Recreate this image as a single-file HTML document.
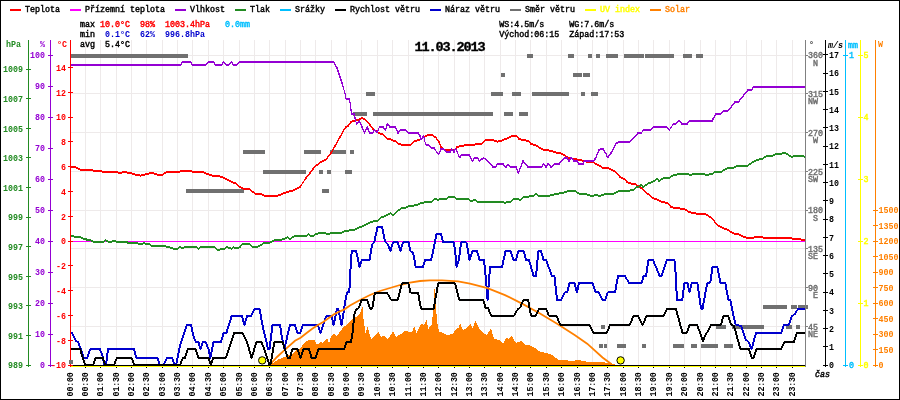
<!DOCTYPE html><html><head><meta charset="utf-8"><title>Meteo 11.03.2013</title>
<style>html,body{margin:0;padding:0;background:#fff}svg{display:block}text{font-family:"Liberation Mono","DejaVu Sans Mono",monospace;font-size:8.33px;white-space:pre;stroke-width:.42px}.b{font-weight:bold}.i{font-style:italic}.ln{fill:none;stroke-width:2;stroke-linejoin:miter}</style></head><body>
<svg width="900" height="400" viewBox="0 0 900 400">
<rect x="0" y="0" width="900" height="400" fill="#fff"/>
<g fill="#eeeaea" shape-rendering="crispEdges"><rect x="85" y="40" width="1" height="325"/><rect x="100" y="40" width="1" height="325"/><rect x="116" y="40" width="1" height="325"/><rect x="131" y="40" width="1" height="325"/><rect x="146" y="40" width="1" height="325"/><rect x="162" y="40" width="1" height="325"/><rect x="177" y="40" width="1" height="325"/><rect x="192" y="40" width="1" height="325"/><rect x="208" y="40" width="1" height="325"/><rect x="223" y="40" width="1" height="325"/><rect x="239" y="40" width="1" height="325"/><rect x="254" y="40" width="1" height="325"/><rect x="269" y="40" width="1" height="325"/><rect x="285" y="40" width="1" height="325"/><rect x="300" y="40" width="1" height="325"/><rect x="315" y="40" width="1" height="325"/><rect x="331" y="40" width="1" height="325"/><rect x="346" y="40" width="1" height="325"/><rect x="361" y="40" width="1" height="325"/><rect x="377" y="40" width="1" height="325"/><rect x="392" y="40" width="1" height="325"/><rect x="408" y="40" width="1" height="325"/><rect x="423" y="40" width="1" height="325"/><rect x="438" y="40" width="1" height="325"/><rect x="454" y="40" width="1" height="325"/><rect x="469" y="40" width="1" height="325"/><rect x="484" y="40" width="1" height="325"/><rect x="500" y="40" width="1" height="325"/><rect x="515" y="40" width="1" height="325"/><rect x="530" y="40" width="1" height="325"/><rect x="546" y="40" width="1" height="325"/><rect x="561" y="40" width="1" height="325"/><rect x="577" y="40" width="1" height="325"/><rect x="592" y="40" width="1" height="325"/><rect x="607" y="40" width="1" height="325"/><rect x="623" y="40" width="1" height="325"/><rect x="638" y="40" width="1" height="325"/><rect x="653" y="40" width="1" height="325"/><rect x="669" y="40" width="1" height="325"/><rect x="684" y="40" width="1" height="325"/><rect x="700" y="40" width="1" height="325"/><rect x="715" y="40" width="1" height="325"/><rect x="730" y="40" width="1" height="325"/><rect x="746" y="40" width="1" height="325"/><rect x="761" y="40" width="1" height="325"/><rect x="776" y="40" width="1" height="325"/><rect x="792" y="40" width="1" height="325"/><rect x="71" y="326" width="734" height="1"/><rect x="71" y="287" width="734" height="1"/><rect x="71" y="248" width="734" height="1"/><rect x="71" y="210" width="734" height="1"/><rect x="71" y="171" width="734" height="1"/><rect x="71" y="132" width="734" height="1"/><rect x="71" y="93" width="734" height="1"/><rect x="71" y="55" width="734" height="1"/></g>
<g fill="#707070" shape-rendering="crispEdges"><rect x="70" y="54" width="118" height="4"/><rect x="527" y="54" width="6" height="4"/><rect x="568" y="54" width="6" height="4"/><rect x="588" y="54" width="4" height="4"/><rect x="596" y="54" width="4" height="4"/><rect x="606" y="54" width="12" height="4"/><rect x="624" y="54" width="20" height="4"/><rect x="645" y="54" width="29" height="4"/><rect x="683" y="54" width="9" height="4"/><rect x="696" y="54" width="7" height="4"/><rect x="501" y="73" width="4" height="4"/><rect x="573" y="73" width="9" height="4"/><rect x="583" y="73" width="7" height="4"/><rect x="366" y="92" width="9" height="4"/><rect x="491" y="92" width="12" height="4"/><rect x="512" y="92" width="9" height="4"/><rect x="532" y="92" width="37" height="4"/><rect x="581" y="92" width="4" height="4"/><rect x="591" y="92" width="7" height="4"/><rect x="353" y="112" width="14" height="4"/><rect x="373" y="112" width="120" height="4"/><rect x="504" y="112" width="9" height="4"/><rect x="519" y="112" width="9" height="4"/><rect x="243" y="150" width="22" height="4"/><rect x="304" y="150" width="17" height="4"/><rect x="330" y="150" width="16" height="4"/><rect x="350" y="150" width="4" height="4"/><rect x="263" y="170" width="43" height="4"/><rect x="319" y="170" width="4" height="4"/><rect x="327" y="170" width="4" height="4"/><rect x="345" y="170" width="7" height="4"/><rect x="186" y="189" width="58" height="4"/><rect x="322" y="189" width="7" height="4"/><rect x="763" y="305" width="24" height="4"/><rect x="791" y="305" width="6" height="4"/><rect x="798" y="305" width="10" height="4"/><rect x="601" y="325" width="4" height="4"/><rect x="716" y="325" width="10" height="4"/><rect x="732" y="325" width="32" height="4"/><rect x="786" y="325" width="6" height="4"/><rect x="796" y="325" width="4" height="4"/><rect x="599" y="344" width="4" height="4"/><rect x="604" y="344" width="3" height="4"/><rect x="617" y="344" width="9" height="4"/><rect x="642" y="344" width="4" height="4"/><rect x="673" y="344" width="11" height="4"/><rect x="691" y="344" width="6" height="4"/><rect x="701" y="344" width="17" height="4"/><rect x="724" y="344" width="9" height="4"/></g>
<polygon shape-rendering="crispEdges" fill="#ff8000" points="270,365 278,359.7 285,356.9 292,354.1 296.2,350.6 300.4,348.5 303.9,342.9 308.8,340.1 314.4,340.1 316.5,343.6 318.6,344.3 320.7,341.5 322.8,342.9 325.6,339.4 327.3,338 329.1,343.6 331.2,335.9 334,333.1 336.8,335.9 340.3,331 343.8,326.8 348,324 351.5,319.8 353.6,318.4 359.2,314.9 362.5,307 363.7,320.5 365.5,332.5 367.75,326.5 368.8,332 371.5,339.25 375.25,335.8 378.25,331.75 381.25,337 384.25,335.5 388,339.25 393.25,331.3 396.25,337 399.25,334.75 402.25,333.25 406,330.25 409,332.5 412,331.75 414.25,326.5 416.5,333.25 421,323.5 424,325 426.5,320.2 428.5,328.75 431.5,325 433.3,310 434.5,289 436,308.5 437.5,323.5 439,331.75 442,332.5 446.5,334.75 452.5,334.3 456.25,328.75 458.5,328 460.3,323.5 463,330.25 466.75,328 470.5,324.25 472.4,328 475.6,321 479,328 484,334 487,335 491,328 494,339 500,340 503,343.6 506,338 509,339 511.6,336 516,343 520,341.6 521.6,341 525,345 529,345 535,348 540,351.6 546,353 552,355 558,359.6 564,360 572,361 578,360 584,361 588,362 600,362 610,363 617,365 617,365 270,365"/>
<path shape-rendering="crispEdges" fill="#ff0000" d="M70,166L75,166L75,168L70,168ZM75,166L80,168.4L80,170.4L75,168ZM80,168.4L85,169.6L85,171.6L80,170.4ZM85,169.6L90,168.6L90,170.6L85,171.6ZM90,168.6L95,170L95,172L90,170.6ZM95,170L98,170.5L98,172.5L95,172ZM98,170.5L100,170L100,172L98,172.5ZM100,170L103,171L103,173L100,172ZM103,171L116,171L116,173L103,173ZM116,171L119,172L119,174L116,173ZM119,172L124,171L124,173L119,174ZM124,171L130,172L130,174L124,173ZM130,172L135,173.6L135,175.6L130,174ZM135,173.6L141,174.6L141,176.6L135,175.6ZM141,174.6L148,172.6L148,174.6L141,176.6ZM148,172.6L153,172L153,174L148,174.6ZM153,172L158,173.8L158,175.8L153,174ZM158,173.8L162,173.8L162,175.8L158,175.8ZM162,173.8L167,171L167,173L162,175.8ZM167,171L178,171L178,173L167,173ZM178,171L181,170L181,172L178,173ZM181,170L190,170L190,172L181,172ZM190,170L193,171L193,173L190,172ZM193,171L203,171L203,173L193,173ZM203,171L209,173.6L209,175.6L203,173ZM209,173.6L214,175L214,177L209,175.6ZM214,175L220,175.4L220,177.4L214,177ZM220,175.4L226,178L226,180L220,177.4ZM226,178L230,180L230,182L226,180ZM230,180L236,182.6L236,184.6L230,182ZM236,182.6L240,186L240,188L236,184.6ZM240,186L244,188L244,190L240,188ZM244,188L249,188L249,190L244,190ZM249,188L255,192.6L255,194.6L249,190ZM255,192.6L261,193L261,195L255,194.6ZM261,193L265,195L265,197L261,195ZM265,195L277,195L277,197L265,197ZM277,195L281,193.4L281,195.4L277,197ZM281,193.4L287,191L287,193L281,195.4ZM287,191L293,189.4L293,191.4L287,193ZM293,189.4L300,186L300,188L293,191.4ZM299.2,187L305.2,178L306.8,178L300.8,187ZM305.1,178L309.1,173L310.9,173L306.9,178ZM309.1,173L314.1,166.4L315.9,166.4L310.9,173ZM315,165.4L321,161L321,163L315,167.4ZM321,161L326,158.6L326,160.6L321,163ZM325.1,159.6L330.1,153L331.9,153L326.9,159.6ZM330.2,153L334.2,146L335.8,146L331.8,153ZM334.2,146L339.2,137L340.8,137L335.8,146ZM339.2,137L343.2,129.5L344.8,129.5L340.8,137ZM343.1,129.5L345.1,127L346.9,127L344.9,129.5ZM346,126L348.5,124.5L348.5,126.5L346,128ZM347.6,125.5L350.1,122L351.9,122L349.4,125.5ZM351,121L354,119.8L354,121.8L351,123ZM354,119.8L359,118.8L359,120.8L354,121.8ZM359,118.8L362,116.8L362,118.8L359,120.8ZM362,116.8L364.5,118L364.5,120L362,118.8ZM364.5,118L367.5,121L367.5,123L364.5,120ZM368.4,122L370.9,125L369.1,125L366.6,122ZM370.9,125L373.9,129L372.1,129L369.1,125ZM373,128L376,130.2L376,132.2L373,130ZM376,130.2L379,132L379,134L376,132.2ZM379,132L383,133.5L383,135.5L379,134ZM383,133.5L388,138L388,140L383,135.5ZM388,138L392,138.6L392,140.6L388,140ZM392,138.6L394,140.6L394,142.6L392,140.6ZM393.1,141.6L394.1,140.4L395.9,140.4L394.9,141.6ZM395,139.4L399,143.4L399,145.4L395,141.4ZM399,143.4L410,144L410,146L399,145.4ZM410,144L415,140L415,142L410,146ZM415,140L420,138.6L420,140.6L415,142ZM420,138.6L424,136L424,138L420,140.6ZM424,136L428,134L428,136L424,138ZM428,134L432,134L432,136L428,136ZM432,134L436,136.6L436,138.6L432,136ZM436.8,137.6L439.8,142L438.2,142L435.2,137.6ZM439.7,142L441.7,147L440.3,147L438.3,142ZM441,146L445,149L445,151L441,148ZM445,149L454,149L454,151L445,151ZM454,149L457,146L457,148L454,151ZM457,146L460,145L460,147L457,148ZM460,145L468,144L468,146L460,147ZM468,144L476,143.4L476,145.4L468,146ZM476,143.4L481,143.4L481,145.4L476,145.4ZM481,143.4L486,139L486,141L481,145.4ZM486,139L492,138.6L492,140.6L486,141ZM492,138.6L497,140.6L497,142.6L492,140.6ZM497,140.6L501,140L501,142L497,142.6ZM501,140L508,137L508,139L501,142ZM508,137L513,134.6L513,136.6L508,139ZM513,134.6L516,135L516,137L513,136.6ZM516,135L519,138L519,140L516,137ZM519,138L523,139L523,141L519,140ZM523,139L528,140L528,142L523,141ZM528,140L531,143L531,145L528,142ZM531,143L537,145L537,147L531,145ZM537,145L543,148.6L543,150.6L537,147ZM543,148.6L552,150L552,152L543,150.6ZM552,150L556,151.6L556,153.6L552,152ZM556,151.6L562,152.6L562,154.6L556,153.6ZM562,152.6L568,156.6L568,158.6L562,154.6ZM568,156.6L574,158L574,160L568,158.6ZM574,158L580,159L580,161L574,160ZM580,159L586,160.6L586,162.6L580,161ZM586,160.6L593,161L593,163L586,162.6ZM593,161L597,163.6L597,165.6L593,163ZM597,163.6L600,165L600,167L597,165.6ZM600,165L602,166.6L602,168.6L600,167ZM602,166.6L608,167L608,169L602,168.6ZM608,167L614,170L614,172L608,169ZM614,170L620,176L620,178L614,172ZM620,176L624,178L624,180L620,178ZM624,178L627,181L627,183L624,180ZM627,181L631,182.6L631,184.6L627,183ZM631,182.6L636,183.6L636,185.6L631,184.6ZM636,183.6L642,187.6L642,189.6L636,185.6ZM642,187.6L648,193L648,195L642,189.6ZM648,193L653,197L653,199L648,195ZM653,197L658,199L658,201L653,199ZM658,199L662,201L662,203L658,201ZM662,201L667,202L667,204L662,203ZM667,202L671,206L671,208L667,204ZM671,206L675,207L675,209L671,208ZM675,207L684,208L684,210L675,209ZM684,208L690,211.4L690,213.4L684,210ZM690,211.4L696,212.6L696,214.6L690,213.4ZM696,212.6L707,213.6L707,215.6L696,214.6ZM707,213.6L712,217.6L712,219.6L707,215.6ZM712.9,218.6L718.9,225.6L717.1,225.6L711.1,218.6ZM718,224.6L723,227L723,229L718,226.6ZM723,227L728,229L728,231L723,229ZM728,229L734,232.6L734,234.6L728,231ZM734,232.6L739,233.6L739,235.6L734,234.6ZM739,233.6L746,236.6L746,238.6L739,235.6ZM746,236.6L754,236.6L754,238.6L746,238.6ZM754,236.6L757,236L757,238L754,238.6ZM757,236L762,236L762,238L757,238ZM762,236L764,236.8L764,238.8L762,238ZM764,236.8L790,236.8L790,238.8L764,238.8ZM790,236.8L792,237.6L792,239.6L790,238.8ZM792,237.6L800,238L800,240L792,239.6ZM800,238L802,239L802,241L800,240ZM802,239L806,239L806,241L802,241ZM74.4,166.4L75.6,166.4L75.6,167.6L74.4,167.6ZM79.4,168.8L80.6,168.8L80.6,170L79.4,170ZM84.4,170L85.6,170L85.6,171.2L84.4,171.2ZM89.4,169L90.6,169L90.6,170.2L89.4,170.2ZM94.4,170.4L95.6,170.4L95.6,171.6L94.4,171.6ZM97.4,170.9L98.6,170.9L98.6,172.1L97.4,172.1ZM99.4,170.4L100.6,170.4L100.6,171.6L99.4,171.6ZM102.4,171.4L103.6,171.4L103.6,172.6L102.4,172.6ZM115.4,171.4L116.6,171.4L116.6,172.6L115.4,172.6ZM118.4,172.4L119.6,172.4L119.6,173.6L118.4,173.6ZM123.4,171.4L124.6,171.4L124.6,172.6L123.4,172.6ZM129.4,172.4L130.6,172.4L130.6,173.6L129.4,173.6ZM134.4,174L135.6,174L135.6,175.2L134.4,175.2ZM140.4,175L141.6,175L141.6,176.2L140.4,176.2ZM147.4,173L148.6,173L148.6,174.2L147.4,174.2ZM152.4,172.4L153.6,172.4L153.6,173.6L152.4,173.6ZM157.4,174.2L158.6,174.2L158.6,175.4L157.4,175.4ZM161.4,174.2L162.6,174.2L162.6,175.4L161.4,175.4ZM166.4,171.4L167.6,171.4L167.6,172.6L166.4,172.6ZM177.4,171.4L178.6,171.4L178.6,172.6L177.4,172.6ZM180.4,170.4L181.6,170.4L181.6,171.6L180.4,171.6ZM189.4,170.4L190.6,170.4L190.6,171.6L189.4,171.6ZM192.4,171.4L193.6,171.4L193.6,172.6L192.4,172.6ZM202.4,171.4L203.6,171.4L203.6,172.6L202.4,172.6ZM208.4,174L209.6,174L209.6,175.2L208.4,175.2ZM213.4,175.4L214.6,175.4L214.6,176.6L213.4,176.6ZM219.4,175.8L220.6,175.8L220.6,177L219.4,177ZM225.4,178.4L226.6,178.4L226.6,179.6L225.4,179.6ZM229.4,180.4L230.6,180.4L230.6,181.6L229.4,181.6ZM235.4,183L236.6,183L236.6,184.2L235.4,184.2ZM239.4,186.4L240.6,186.4L240.6,187.6L239.4,187.6ZM243.4,188.4L244.6,188.4L244.6,189.6L243.4,189.6ZM248.4,188.4L249.6,188.4L249.6,189.6L248.4,189.6ZM254.4,193L255.6,193L255.6,194.2L254.4,194.2ZM260.4,193.4L261.6,193.4L261.6,194.6L260.4,194.6ZM264.4,195.4L265.6,195.4L265.6,196.6L264.4,196.6ZM276.4,195.4L277.6,195.4L277.6,196.6L276.4,196.6ZM280.4,193.8L281.6,193.8L281.6,195L280.4,195ZM286.4,191.4L287.6,191.4L287.6,192.6L286.4,192.6ZM292.4,189.8L293.6,189.8L293.6,191L292.4,191ZM299.4,186.4L300.6,186.4L300.6,187.6L299.4,187.6ZM305.4,177.4L306.6,177.4L306.6,178.6L305.4,178.6ZM309.4,172.4L310.6,172.4L310.6,173.6L309.4,173.6ZM314.4,165.8L315.6,165.8L315.6,167L314.4,167ZM320.4,161.4L321.6,161.4L321.6,162.6L320.4,162.6ZM325.4,159L326.6,159L326.6,160.2L325.4,160.2ZM330.4,152.4L331.6,152.4L331.6,153.6L330.4,153.6ZM334.4,145.4L335.6,145.4L335.6,146.6L334.4,146.6ZM339.4,136.4L340.6,136.4L340.6,137.6L339.4,137.6ZM343.4,128.9L344.6,128.9L344.6,130.1L343.4,130.1ZM345.4,126.4L346.6,126.4L346.6,127.6L345.4,127.6ZM347.9,124.9L349.1,124.9L349.1,126.1L347.9,126.1ZM350.4,121.4L351.6,121.4L351.6,122.6L350.4,122.6ZM353.4,120.2L354.6,120.2L354.6,121.4L353.4,121.4ZM358.4,119.2L359.6,119.2L359.6,120.4L358.4,120.4ZM361.4,117.2L362.6,117.2L362.6,118.4L361.4,118.4ZM363.9,118.4L365.1,118.4L365.1,119.6L363.9,119.6ZM366.9,121.4L368.1,121.4L368.1,122.6L366.9,122.6ZM369.4,124.4L370.6,124.4L370.6,125.6L369.4,125.6ZM372.4,128.4L373.6,128.4L373.6,129.6L372.4,129.6ZM375.4,130.6L376.6,130.6L376.6,131.8L375.4,131.8ZM378.4,132.4L379.6,132.4L379.6,133.6L378.4,133.6ZM382.4,133.9L383.6,133.9L383.6,135.1L382.4,135.1ZM387.4,138.4L388.6,138.4L388.6,139.6L387.4,139.6ZM391.4,139L392.6,139L392.6,140.2L391.4,140.2ZM393.4,141L394.6,141L394.6,142.2L393.4,142.2ZM394.4,139.8L395.6,139.8L395.6,141L394.4,141ZM398.4,143.8L399.6,143.8L399.6,145L398.4,145ZM409.4,144.4L410.6,144.4L410.6,145.6L409.4,145.6ZM414.4,140.4L415.6,140.4L415.6,141.6L414.4,141.6ZM419.4,139L420.6,139L420.6,140.2L419.4,140.2ZM423.4,136.4L424.6,136.4L424.6,137.6L423.4,137.6ZM427.4,134.4L428.6,134.4L428.6,135.6L427.4,135.6ZM431.4,134.4L432.6,134.4L432.6,135.6L431.4,135.6ZM435.4,137L436.6,137L436.6,138.2L435.4,138.2ZM438.4,141.4L439.6,141.4L439.6,142.6L438.4,142.6ZM440.4,146.4L441.6,146.4L441.6,147.6L440.4,147.6ZM444.4,149.4L445.6,149.4L445.6,150.6L444.4,150.6ZM453.4,149.4L454.6,149.4L454.6,150.6L453.4,150.6ZM456.4,146.4L457.6,146.4L457.6,147.6L456.4,147.6ZM459.4,145.4L460.6,145.4L460.6,146.6L459.4,146.6ZM467.4,144.4L468.6,144.4L468.6,145.6L467.4,145.6ZM475.4,143.8L476.6,143.8L476.6,145L475.4,145ZM480.4,143.8L481.6,143.8L481.6,145L480.4,145ZM485.4,139.4L486.6,139.4L486.6,140.6L485.4,140.6ZM491.4,139L492.6,139L492.6,140.2L491.4,140.2ZM496.4,141L497.6,141L497.6,142.2L496.4,142.2ZM500.4,140.4L501.6,140.4L501.6,141.6L500.4,141.6ZM507.4,137.4L508.6,137.4L508.6,138.6L507.4,138.6ZM512.4,135L513.6,135L513.6,136.2L512.4,136.2ZM515.4,135.4L516.6,135.4L516.6,136.6L515.4,136.6ZM518.4,138.4L519.6,138.4L519.6,139.6L518.4,139.6ZM522.4,139.4L523.6,139.4L523.6,140.6L522.4,140.6ZM527.4,140.4L528.6,140.4L528.6,141.6L527.4,141.6ZM530.4,143.4L531.6,143.4L531.6,144.6L530.4,144.6ZM536.4,145.4L537.6,145.4L537.6,146.6L536.4,146.6ZM542.4,149L543.6,149L543.6,150.2L542.4,150.2ZM551.4,150.4L552.6,150.4L552.6,151.6L551.4,151.6ZM555.4,152L556.6,152L556.6,153.2L555.4,153.2ZM561.4,153L562.6,153L562.6,154.2L561.4,154.2ZM567.4,157L568.6,157L568.6,158.2L567.4,158.2ZM573.4,158.4L574.6,158.4L574.6,159.6L573.4,159.6ZM579.4,159.4L580.6,159.4L580.6,160.6L579.4,160.6ZM585.4,161L586.6,161L586.6,162.2L585.4,162.2ZM592.4,161.4L593.6,161.4L593.6,162.6L592.4,162.6ZM596.4,164L597.6,164L597.6,165.2L596.4,165.2ZM599.4,165.4L600.6,165.4L600.6,166.6L599.4,166.6ZM601.4,167L602.6,167L602.6,168.2L601.4,168.2ZM607.4,167.4L608.6,167.4L608.6,168.6L607.4,168.6ZM613.4,170.4L614.6,170.4L614.6,171.6L613.4,171.6ZM619.4,176.4L620.6,176.4L620.6,177.6L619.4,177.6ZM623.4,178.4L624.6,178.4L624.6,179.6L623.4,179.6ZM626.4,181.4L627.6,181.4L627.6,182.6L626.4,182.6ZM630.4,183L631.6,183L631.6,184.2L630.4,184.2ZM635.4,184L636.6,184L636.6,185.2L635.4,185.2ZM641.4,188L642.6,188L642.6,189.2L641.4,189.2ZM647.4,193.4L648.6,193.4L648.6,194.6L647.4,194.6ZM652.4,197.4L653.6,197.4L653.6,198.6L652.4,198.6ZM657.4,199.4L658.6,199.4L658.6,200.6L657.4,200.6ZM661.4,201.4L662.6,201.4L662.6,202.6L661.4,202.6ZM666.4,202.4L667.6,202.4L667.6,203.6L666.4,203.6ZM670.4,206.4L671.6,206.4L671.6,207.6L670.4,207.6ZM674.4,207.4L675.6,207.4L675.6,208.6L674.4,208.6ZM683.4,208.4L684.6,208.4L684.6,209.6L683.4,209.6ZM689.4,211.8L690.6,211.8L690.6,213L689.4,213ZM695.4,213L696.6,213L696.6,214.2L695.4,214.2ZM706.4,214L707.6,214L707.6,215.2L706.4,215.2ZM711.4,218L712.6,218L712.6,219.2L711.4,219.2ZM717.4,225L718.6,225L718.6,226.2L717.4,226.2ZM722.4,227.4L723.6,227.4L723.6,228.6L722.4,228.6ZM727.4,229.4L728.6,229.4L728.6,230.6L727.4,230.6ZM733.4,233L734.6,233L734.6,234.2L733.4,234.2ZM738.4,234L739.6,234L739.6,235.2L738.4,235.2ZM745.4,237L746.6,237L746.6,238.2L745.4,238.2ZM753.4,237L754.6,237L754.6,238.2L753.4,238.2ZM756.4,236.4L757.6,236.4L757.6,237.6L756.4,237.6ZM761.4,236.4L762.6,236.4L762.6,237.6L761.4,237.6ZM763.4,237.2L764.6,237.2L764.6,238.4L763.4,238.4ZM789.4,237.2L790.6,237.2L790.6,238.4L789.4,238.4ZM791.4,238L792.6,238L792.6,239.2L791.4,239.2ZM799.4,238.4L800.6,238.4L800.6,239.6L799.4,239.6ZM801.4,239.4L802.6,239.4L802.6,240.6L801.4,240.6Z"/>
<rect x="71" y="241" width="735" height="1" fill="#ff00ff" shape-rendering="crispEdges"/>
<path shape-rendering="crispEdges" fill="#9400d3" d="M70,64L180.5,64L180.5,66L70,66ZM179.7,65L181.7,62L183.3,62L181.3,65ZM182.5,61L190.5,61L190.5,63L182.5,63ZM191.3,62L193.3,65L191.7,65L189.7,62ZM192.5,64L205.5,64L205.5,66L192.5,66ZM205.5,64L208.5,61L208.5,63L205.5,66ZM208.5,61L213.5,61L213.5,63L208.5,63ZM214.3,62L216.3,65L214.7,65L212.7,62ZM215.5,64L221.5,64L221.5,66L215.5,66ZM220.7,65L222.7,62L224.3,62L222.3,65ZM223.5,61L226.5,64L226.5,66L223.5,63ZM226.5,64L228.5,64L228.5,66L226.5,66ZM228.5,64L231.5,61L231.5,63L228.5,66ZM232.3,62L234.3,65L232.7,65L230.7,62ZM233.5,64L236.5,64L236.5,66L233.5,66ZM236.5,64L239.5,61L239.5,63L236.5,66ZM239.5,61L333.6,61L333.6,63L239.5,63ZM334.4,62L337.8,68L336.2,68L332.8,62ZM337.7,68L342.7,83L341.3,83L336.3,68ZM342.6,83L346.1,95L344.9,95L341.4,83ZM346.1,95L346.6,98.5L345.4,98.5L344.9,95ZM346,97.5L349,97.5L349,99.5L346,99.5ZM349.6,98.5L351.1,105L349.9,105L348.4,98.5ZM351.1,105L351.6,110L350.4,110L349.9,105ZM351.6,110L352.6,114L351.4,114L350.4,110ZM352,113L354,113L354,115L352,115ZM354.6,114L355.6,118L354.4,118L353.4,114ZM355.6,118L357.1,124L355.9,124L354.4,118ZM356.5,123L359.5,120L359.5,122L356.5,125ZM360.2,121L362.7,127L361.3,127L358.8,121ZM362.7,127L365.2,133L363.8,133L361.3,127ZM363.8,133L366.5,126.8L367.9,126.8L365.2,133ZM367.9,126.8L370.2,133L368.8,133L366.5,126.8ZM369.5,132L372.5,132L372.5,134L369.5,134ZM371.7,133L373.7,130L375.3,130L373.3,133ZM374.5,129L377,131.5L377,133.5L374.5,131ZM376.3,132.5L378.8,127L380.2,127L377.7,132.5ZM379.5,126L383,126L383,128L379.5,128ZM383.9,127L386.4,130L384.6,130L382.1,127ZM384.8,130L386.8,123.5L388.2,123.5L386.2,130ZM388.4,123.5L390.9,127L389.1,127L386.6,123.5ZM390,126L395.5,126L395.5,128L390,128ZM396.2,127L398.7,133L397.3,133L394.8,127ZM397.1,133L399.6,129.8L401.4,129.8L398.9,133ZM400.5,128.8L405,128.8L405,130.8L400.5,130.8ZM405,128.8L408.5,132L408.5,134L405,130.8ZM408.5,132L418.5,132L418.5,134L408.5,134ZM419.2,133L420.8,136L419.2,136L417.8,133ZM420.6,136L421.6,139.6L420.4,139.6L419.4,136ZM420.1,139.6L422.7,136L424.5,136L421.9,139.6ZM424.2,136L426.2,144.6L425,144.6L423,136ZM425.6,143.6L428,144L428,146L425.6,145.6ZM428,144L432,147L432,149L428,146ZM432,147L434,147L434,149L432,149ZM434.8,148L439.2,154.6L437.6,154.6L433.2,148ZM437.7,154.6L440.3,149L441.7,149L439.1,154.6ZM441,148L443,148L443,150L441,150ZM443,148L447,151L447,153L443,150ZM447,151L450,151L450,153L447,153ZM449.2,152L450.8,149L452.4,149L450.8,152ZM452.5,149L454.9,152L453.1,152L450.7,149ZM453.3,152L454.9,148.6L456.3,148.6L454.7,152ZM456.3,148.6L460.3,157.6L458.9,157.6L454.9,148.6ZM458.7,157.6L460.7,155L462.5,155L460.5,157.6ZM461.6,154L469,154L469,156L461.6,156ZM469.8,155L473.2,161L471.6,161L468.2,155ZM471.6,161L473.6,158L475.2,158L473.2,161ZM474.4,157L477.6,157L477.6,159L474.4,159ZM478.4,158L480.4,161L478.8,161L476.8,158ZM479.6,160L483.6,156.6L483.6,158.6L479.6,162ZM484.6,157.6L494,167L492,167L482.6,157.6ZM493,166L495.6,166L495.6,168L493,168ZM494.8,167L496.8,164L498.4,164L496.4,167ZM497.6,163L503,163L503,165L497.6,165ZM503.9,164L506.9,167.6L505.1,167.6L502.1,164ZM505.2,167.6L506.9,164.4L508.4,164.4L506.8,167.6ZM507.6,163.4L511,166L511,168L507.6,165.4ZM511,166L516,166L516,168L511,168ZM516.7,167L519.1,173L517.7,173L515.3,167ZM517.7,173L522.3,161L523.7,161L519.1,173ZM523.9,161L528.9,167L527.1,167L522.1,161ZM528,166L541.6,166L541.6,168L528,168ZM540.8,167L542.8,164L544.4,164L542.4,167ZM544.5,164L546.9,167L545.1,167L542.7,164ZM545.2,167L547.2,164L548.8,164L546.8,167ZM548,163L551,166L551,168L548,165ZM551,166L554.4,163L554.4,165L551,168ZM554.4,163L559,163L559,165L554.4,165ZM558,164L564,157.6L566,157.6L560,164ZM565,156.6L567,157L567,159L565,158.6ZM567.8,158L569.8,161L568.2,161L566.2,158ZM568.2,161L570.2,157.6L571.8,157.6L569.8,161ZM571.9,157.6L574.9,161L573.1,161L570.1,157.6ZM574,160L577,160L577,162L574,162ZM577.8,161L579.8,164L578.2,164L576.2,161ZM579,163L583,163L583,165L579,165ZM582.3,164L583.7,161L585.1,161L583.7,164ZM584.4,160L593.6,160L593.6,162L584.4,162ZM592.7,161L595.1,157.6L596.9,157.6L594.5,161ZM595.3,157.6L598.3,149.6L599.7,149.6L596.7,157.6ZM599,148.6L603,148L603,150L599,150.6ZM603.8,149L606.4,153L604.8,153L602.2,149ZM606.3,153L608.3,157.6L606.9,157.6L604.9,153ZM606.7,157.6L610.1,153L611.9,153L608.5,157.6ZM610.2,153L615.2,143.6L616.8,143.6L611.8,153ZM616,142.6L619,140.6L619,142.6L616,144.6ZM619,140.6L630,140.6L630,142.6L619,142.6ZM629,141.6L637,133L639,133L631,141.6ZM638,132L641.6,131.6L641.6,133.6L638,134ZM640.8,132.6L642.8,129.6L644.4,129.6L642.4,132.6ZM643.6,128.6L651,128.6L651,130.6L643.6,130.6ZM651,128.6L653.6,126L653.6,128L651,130.6ZM653.6,126L666,126L666,128L653.6,128ZM666,126L669.6,128.6L669.6,130.6L666,128ZM668.8,129.6L672.2,124.6L673.8,124.6L670.4,129.6ZM673,123.6L676,122.6L676,124.6L673,125.6ZM676,122.6L679,120L679,122L676,124.6ZM679,120L682,123L682,125L679,122ZM682,123L687,123L687,125L682,125ZM686.1,124L688.7,121L690.5,121L687.9,124ZM689.6,120L712,120L712,122L689.6,122ZM711.2,121L714.8,114L716.4,114L712.8,121ZM715.6,113L720,113L720,115L715.6,115ZM720,113L723.6,109.6L723.6,111.6L720,115ZM723.6,109.6L728.4,109.6L728.4,111.6L723.6,111.6ZM727.5,110.6L734.1,102L735.9,102L729.3,110.6ZM735,101L738.4,101L738.4,103L735,103ZM737.5,102L747.1,90L748.9,90L739.3,102ZM748,89L751.6,89L751.6,91L748,91ZM750.8,90L752.8,87L754.4,87L752.4,90ZM753.6,86L806,86L806,88L753.6,88ZM179.9,64.4L181.1,64.4L181.1,65.6L179.9,65.6ZM181.9,61.4L183.1,61.4L183.1,62.6L181.9,62.6ZM189.9,61.4L191.1,61.4L191.1,62.6L189.9,62.6ZM191.9,64.4L193.1,64.4L193.1,65.6L191.9,65.6ZM204.9,64.4L206.1,64.4L206.1,65.6L204.9,65.6ZM207.9,61.4L209.1,61.4L209.1,62.6L207.9,62.6ZM212.9,61.4L214.1,61.4L214.1,62.6L212.9,62.6ZM214.9,64.4L216.1,64.4L216.1,65.6L214.9,65.6ZM220.9,64.4L222.1,64.4L222.1,65.6L220.9,65.6ZM222.9,61.4L224.1,61.4L224.1,62.6L222.9,62.6ZM225.9,64.4L227.1,64.4L227.1,65.6L225.9,65.6ZM227.9,64.4L229.1,64.4L229.1,65.6L227.9,65.6ZM230.9,61.4L232.1,61.4L232.1,62.6L230.9,62.6ZM232.9,64.4L234.1,64.4L234.1,65.6L232.9,65.6ZM235.9,64.4L237.1,64.4L237.1,65.6L235.9,65.6ZM238.9,61.4L240.1,61.4L240.1,62.6L238.9,62.6ZM333,61.4L334.2,61.4L334.2,62.6L333,62.6ZM336.4,67.4L337.6,67.4L337.6,68.6L336.4,68.6ZM341.4,82.4L342.6,82.4L342.6,83.6L341.4,83.6ZM344.9,94.4L346.1,94.4L346.1,95.6L344.9,95.6ZM345.4,97.9L346.6,97.9L346.6,99.1L345.4,99.1ZM348.4,97.9L349.6,97.9L349.6,99.1L348.4,99.1ZM349.9,104.4L351.1,104.4L351.1,105.6L349.9,105.6ZM350.4,109.4L351.6,109.4L351.6,110.6L350.4,110.6ZM351.4,113.4L352.6,113.4L352.6,114.6L351.4,114.6ZM353.4,113.4L354.6,113.4L354.6,114.6L353.4,114.6ZM354.4,117.4L355.6,117.4L355.6,118.6L354.4,118.6ZM355.9,123.4L357.1,123.4L357.1,124.6L355.9,124.6ZM358.9,120.4L360.1,120.4L360.1,121.6L358.9,121.6ZM361.4,126.4L362.6,126.4L362.6,127.6L361.4,127.6ZM363.9,132.4L365.1,132.4L365.1,133.6L363.9,133.6ZM366.6,126.2L367.8,126.2L367.8,127.4L366.6,127.4ZM368.9,132.4L370.1,132.4L370.1,133.6L368.9,133.6ZM371.9,132.4L373.1,132.4L373.1,133.6L371.9,133.6ZM373.9,129.4L375.1,129.4L375.1,130.6L373.9,130.6ZM376.4,131.9L377.6,131.9L377.6,133.1L376.4,133.1ZM378.9,126.4L380.1,126.4L380.1,127.6L378.9,127.6ZM382.4,126.4L383.6,126.4L383.6,127.6L382.4,127.6ZM384.9,129.4L386.1,129.4L386.1,130.6L384.9,130.6ZM386.9,122.9L388.1,122.9L388.1,124.1L386.9,124.1ZM389.4,126.4L390.6,126.4L390.6,127.6L389.4,127.6ZM394.9,126.4L396.1,126.4L396.1,127.6L394.9,127.6ZM397.4,132.4L398.6,132.4L398.6,133.6L397.4,133.6ZM399.9,129.2L401.1,129.2L401.1,130.4L399.9,130.4ZM404.4,129.2L405.6,129.2L405.6,130.4L404.4,130.4ZM407.9,132.4L409.1,132.4L409.1,133.6L407.9,133.6ZM417.9,132.4L419.1,132.4L419.1,133.6L417.9,133.6ZM419.4,135.4L420.6,135.4L420.6,136.6L419.4,136.6ZM420.4,139L421.6,139L421.6,140.2L420.4,140.2ZM423,135.4L424.2,135.4L424.2,136.6L423,136.6ZM425,144L426.2,144L426.2,145.2L425,145.2ZM427.4,144.4L428.6,144.4L428.6,145.6L427.4,145.6ZM431.4,147.4L432.6,147.4L432.6,148.6L431.4,148.6ZM433.4,147.4L434.6,147.4L434.6,148.6L433.4,148.6ZM437.8,154L439,154L439,155.2L437.8,155.2ZM440.4,148.4L441.6,148.4L441.6,149.6L440.4,149.6ZM442.4,148.4L443.6,148.4L443.6,149.6L442.4,149.6ZM446.4,151.4L447.6,151.4L447.6,152.6L446.4,152.6ZM449.4,151.4L450.6,151.4L450.6,152.6L449.4,152.6ZM451,148.4L452.2,148.4L452.2,149.6L451,149.6ZM453.4,151.4L454.6,151.4L454.6,152.6L453.4,152.6ZM455,148L456.2,148L456.2,149.2L455,149.2ZM459,157L460.2,157L460.2,158.2L459,158.2ZM461,154.4L462.2,154.4L462.2,155.6L461,155.6ZM468.4,154.4L469.6,154.4L469.6,155.6L468.4,155.6ZM471.8,160.4L473,160.4L473,161.6L471.8,161.6ZM473.8,157.4L475,157.4L475,158.6L473.8,158.6ZM477,157.4L478.2,157.4L478.2,158.6L477,158.6ZM479,160.4L480.2,160.4L480.2,161.6L479,161.6ZM483,157L484.2,157L484.2,158.2L483,158.2ZM492.4,166.4L493.6,166.4L493.6,167.6L492.4,167.6ZM495,166.4L496.2,166.4L496.2,167.6L495,167.6ZM497,163.4L498.2,163.4L498.2,164.6L497,164.6ZM502.4,163.4L503.6,163.4L503.6,164.6L502.4,164.6ZM505.4,167L506.6,167L506.6,168.2L505.4,168.2ZM507,163.8L508.2,163.8L508.2,165L507,165ZM510.4,166.4L511.6,166.4L511.6,167.6L510.4,167.6ZM515.4,166.4L516.6,166.4L516.6,167.6L515.4,167.6ZM517.8,172.4L519,172.4L519,173.6L517.8,173.6ZM522.4,160.4L523.6,160.4L523.6,161.6L522.4,161.6ZM527.4,166.4L528.6,166.4L528.6,167.6L527.4,167.6ZM541,166.4L542.2,166.4L542.2,167.6L541,167.6ZM543,163.4L544.2,163.4L544.2,164.6L543,164.6ZM545.4,166.4L546.6,166.4L546.6,167.6L545.4,167.6ZM547.4,163.4L548.6,163.4L548.6,164.6L547.4,164.6ZM550.4,166.4L551.6,166.4L551.6,167.6L550.4,167.6ZM553.8,163.4L555,163.4L555,164.6L553.8,164.6ZM558.4,163.4L559.6,163.4L559.6,164.6L558.4,164.6ZM564.4,157L565.6,157L565.6,158.2L564.4,158.2ZM566.4,157.4L567.6,157.4L567.6,158.6L566.4,158.6ZM568.4,160.4L569.6,160.4L569.6,161.6L568.4,161.6ZM570.4,157L571.6,157L571.6,158.2L570.4,158.2ZM573.4,160.4L574.6,160.4L574.6,161.6L573.4,161.6ZM576.4,160.4L577.6,160.4L577.6,161.6L576.4,161.6ZM578.4,163.4L579.6,163.4L579.6,164.6L578.4,164.6ZM582.4,163.4L583.6,163.4L583.6,164.6L582.4,164.6ZM583.8,160.4L585,160.4L585,161.6L583.8,161.6ZM593,160.4L594.2,160.4L594.2,161.6L593,161.6ZM595.4,157L596.6,157L596.6,158.2L595.4,158.2ZM598.4,149L599.6,149L599.6,150.2L598.4,150.2ZM602.4,148.4L603.6,148.4L603.6,149.6L602.4,149.6ZM605,152.4L606.2,152.4L606.2,153.6L605,153.6ZM607,157L608.2,157L608.2,158.2L607,158.2ZM610.4,152.4L611.6,152.4L611.6,153.6L610.4,153.6ZM615.4,143L616.6,143L616.6,144.2L615.4,144.2ZM618.4,141L619.6,141L619.6,142.2L618.4,142.2ZM629.4,141L630.6,141L630.6,142.2L629.4,142.2ZM637.4,132.4L638.6,132.4L638.6,133.6L637.4,133.6ZM641,132L642.2,132L642.2,133.2L641,133.2ZM643,129L644.2,129L644.2,130.2L643,130.2ZM650.4,129L651.6,129L651.6,130.2L650.4,130.2ZM653,126.4L654.2,126.4L654.2,127.6L653,127.6ZM665.4,126.4L666.6,126.4L666.6,127.6L665.4,127.6ZM669,129L670.2,129L670.2,130.2L669,130.2ZM672.4,124L673.6,124L673.6,125.2L672.4,125.2ZM675.4,123L676.6,123L676.6,124.2L675.4,124.2ZM678.4,120.4L679.6,120.4L679.6,121.6L678.4,121.6ZM681.4,123.4L682.6,123.4L682.6,124.6L681.4,124.6ZM686.4,123.4L687.6,123.4L687.6,124.6L686.4,124.6ZM689,120.4L690.2,120.4L690.2,121.6L689,121.6ZM711.4,120.4L712.6,120.4L712.6,121.6L711.4,121.6ZM715,113.4L716.2,113.4L716.2,114.6L715,114.6ZM719.4,113.4L720.6,113.4L720.6,114.6L719.4,114.6ZM723,110L724.2,110L724.2,111.2L723,111.2ZM727.8,110L729,110L729,111.2L727.8,111.2ZM734.4,101.4L735.6,101.4L735.6,102.6L734.4,102.6ZM737.8,101.4L739,101.4L739,102.6L737.8,102.6ZM747.4,89.4L748.6,89.4L748.6,90.6L747.4,90.6ZM751,89.4L752.2,89.4L752.2,90.6L751,90.6ZM753,86.4L754.2,86.4L754.2,87.6L753,87.6Z"/>
<path shape-rendering="crispEdges" fill="#228b22" d="M70,235.6L73,235L73,237L70,237.6ZM73,235L75,236L75,238L73,237ZM75,236L80,236L80,238L75,238ZM80,236L83,237.6L83,239.6L80,238ZM83,237.6L86,238L86,240L83,239.6ZM86,238L87,239L87,241L86,240ZM87,239L90,239L90,241L87,241ZM90,239L93,240.6L93,242.6L90,241ZM93,240.6L94,241L94,243L93,242.6ZM94,241L103,241L103,243L94,243ZM103,241L105.6,239L105.6,241L103,243ZM105.6,239L109,241.4L109,243.4L105.6,241ZM109,241.4L111,241L111,243L109,243.4ZM111,241L113,239.4L113,241.4L111,243ZM113,239.4L117,241L117,243L113,241.4ZM117,241L127,241L127,243L117,243ZM127,241L128,242L128,244L127,243ZM128,242L137,242L137,244L128,244ZM137,242L139,243L139,245L137,244ZM139,243L142,243L142,245L139,245ZM142,243L144,241.4L144,243.4L142,245ZM144,241.4L146,243L146,245L144,243.4ZM146,243L149,243L149,245L146,245ZM149,243L152,245L152,247L149,245ZM152,245L165,245L165,247L152,247ZM165,245L167,246L167,248L165,247ZM167,246L169,246L169,248L167,248ZM169,246L173,247.6L173,249.6L169,248ZM173,247.6L178,247.6L178,249.6L173,249.6ZM178,247.6L180,246L180,248L178,249.6ZM180,246L182,247.6L182,249.6L180,248ZM182,247.6L185,246L185,248L182,249.6ZM185,246L196,246L196,248L185,248ZM196,246L198.4,247.6L198.4,249.6L196,248ZM198.4,247.6L201,246L201,248L198.4,249.6ZM201,246L214,246L214,248L201,248ZM214,246L218,249L218,251L214,248ZM218,249L221,248L221,250L218,251ZM221,248L224,248L224,250L221,250ZM224,248L227,246L227,248L224,250ZM227,246L231.6,247.6L231.6,249.6L227,248ZM231.6,247.6L233.6,246L233.6,248L231.6,249.6ZM233.6,246L236,247.6L236,249.6L233.6,248ZM236,247.6L240,246L240,248L236,249.6ZM239.1,247L241.1,244.4L242.9,244.4L240.9,247ZM242,243.4L249,243L249,245L242,245.4ZM249,243L253,246L253,248L249,245ZM253,246L257,246.4L257,248.4L253,248ZM257,246.4L264,242L264,244L257,248.4ZM264,242L271,241.4L271,243.4L264,244ZM271,241.4L275,239L275,241L271,243.4ZM275,239L280,239L280,241L275,241ZM280,239L283,238L283,240L280,241ZM283,238L286,237.4L286,239.4L283,240ZM286,237.4L287.6,236L287.6,238L286,239.4ZM287.6,236L290,238L290,240L287.6,238ZM290,238L294,235.4L294,237.4L290,240ZM294,235.4L306,235L306,237L294,237.4ZM306,235L308.4,233L308.4,235L306,237ZM308.4,233L311,235.4L311,237.4L308.4,235ZM311,235.4L313,235L313,237L311,237.4ZM313,235L316,233L316,235L313,237ZM316,233L320,232L320,234L316,235ZM320,232L324,232L324,234L320,234ZM324,232L327,233L327,235L324,234ZM327,233L329,233L329,235L327,235ZM329,233L331,232L331,234L329,235ZM331,232L341,232L341,234L331,234ZM341,232L345,230L345,232L341,234ZM345,230L355,228.6L355,230.6L345,232ZM355,228.6L358,227L358,229L355,230.6ZM358,227L363,225L363,227L358,229ZM363,225L368,222.6L368,224.6L363,227ZM368,222.6L372,220.6L372,222.6L368,224.6ZM372,220.6L377,220L377,222L372,222.6ZM377,220L381,216.6L381,218.6L377,222ZM381,216.6L388,213.6L388,215.6L381,218.6ZM388,213.6L390.4,212L390.4,214L388,215.6ZM390.4,212L393,214L393,216L390.4,214ZM393,214L398,209.6L398,211.6L393,216ZM398,209.6L402,207L402,209L398,211.6ZM402,207L406,206.6L406,208.6L402,209ZM406,206.6L409,205L409,207L406,208.6ZM409,205L413.8,204.5L413.8,206.5L409,207ZM413.8,204.5L418.2,203.6L418.2,205.6L413.8,206.5ZM418.2,203.6L420.5,202L420.5,204L418.2,205.6ZM420.5,202L424.2,201.4L424.2,203.4L420.5,204ZM424.2,201.4L431,201L431,203L424.2,203.4ZM431,201L434.8,197.8L434.8,199.8L431,203ZM434.8,197.8L437.8,199L437.8,201L434.8,199.8ZM437.8,199L440.8,197.8L440.8,199.8L437.8,201ZM440.8,197.8L446.8,197.8L446.8,199.8L440.8,199.8ZM446.8,197.8L449.8,195.5L449.8,197.5L446.8,199.8ZM449.8,195.5L454.2,195.5L454.2,197.5L449.8,197.5ZM454.2,195.5L456.8,197.9L456.8,199.9L454.2,197.5ZM456.8,197.9L467.8,197.9L467.8,199.9L456.8,199.9ZM467.8,197.9L472.2,200.8L472.2,202.8L467.8,199.9ZM472.2,200.8L474.5,198.5L474.5,200.5L472.2,202.8ZM474.5,198.5L477.5,201L477.5,203L474.5,200.5ZM477.5,201L503,201L503,203L477.5,203ZM503,201L504.8,202.2L504.8,204.2L503,203ZM504.8,202.2L506.8,201L506.8,203L504.8,204.2ZM506.8,201L510.5,201L510.5,203L506.8,203ZM509.5,202L512.5,198.9L514.5,198.9L511.5,202ZM513.5,197.9L518,197.9L518,199.9L513.5,199.9ZM518,197.9L520.2,199L520.2,201L518,199.9ZM520.2,199L524,195.9L524,197.9L520.2,201ZM524,195.9L528.5,195.5L528.5,197.5L524,197.9ZM528.5,195.5L530,194.8L530,196.8L528.5,197.5ZM530,194.8L533.8,194.6L533.8,196.6L530,196.8ZM533.8,194.6L536.3,192.9L536.3,194.9L533.8,196.6ZM536.3,192.9L538.2,194.8L538.2,196.8L536.3,194.9ZM538.2,194.8L545,194.8L545,196.8L538.2,196.8ZM545,194.8L548,195L548,197L545,196.8ZM548,195L556,193L556,195L548,197ZM556,193L562,192L562,194L556,195ZM562,192L568,190L568,192L562,194ZM568,190L575,190L575,192L568,192ZM575,190L580,193L580,195L575,192ZM580,193L586,193L586,195L580,195ZM586,193L591,195L591,197L586,195ZM591,195L596,194L596,196L591,197ZM596,194L600,195L600,197L596,196ZM600,195L605,193L605,195L600,197ZM605,193L613,193L613,195L605,195ZM613,193L619,190L619,192L613,195ZM619,190L628,190L628,192L619,192ZM628,190L634,188.6L634,190.6L628,192ZM634,188.6L637,186L637,188L634,190.6ZM637,186L640,185.4L640,187.4L637,188ZM639.1,186.4L640.1,185L641.9,185L640.9,186.4ZM641,184L643,186L643,188L641,186ZM643,186L648,182.6L648,184.6L643,188ZM648,182.6L654,180L654,182L648,184.6ZM654,180L657,178L657,180L654,182ZM657,178L659,180L659,182L657,180ZM659,180L663,177.4L663,179.4L659,182ZM663,177.4L669,177L669,179L663,179.4ZM669,177L674,174L674,176L669,179ZM674,174L679,173L679,175L674,176ZM679,173L687,173L687,175L679,175ZM687,173L690,174L690,176L687,175ZM690,174L694,173L694,175L690,176ZM694,173L703,173L703,175L694,175ZM703,173L706,174L706,176L703,175ZM706,174L712,173L712,175L706,176ZM712,173L715.6,170.6L715.6,172.6L712,175ZM715.6,170.6L717,171.4L717,173.4L715.6,172.6ZM717,171.4L721,171L721,173L717,173.4ZM721,171L727,167.4L727,169.4L721,173ZM727,167.4L733,167L733,169L727,169.4ZM733,167L736,165.4L736,167.4L733,169ZM736,165.4L747,165L747,167L736,167.4ZM747,165L752,161.6L752,163.6L747,167ZM752,161.6L758,158.6L758,160.6L752,163.6ZM758,158.6L762,158L762,160L758,160.6ZM762,158L766,155.4L766,157.4L762,160ZM766,155.4L772,155L772,157L766,157.4ZM772,155L775,153.4L775,155.4L772,157ZM775,153.4L781,153L781,155L775,155.4ZM781,153L784.4,151.6L784.4,153.6L781,155ZM784.4,151.6L788,153.6L788,155.6L784.4,153.6ZM788,153.6L791.6,156L791.6,158L788,155.6ZM791.6,156L794,155L794,157L791.6,158ZM794,155L803,155L803,157L794,157ZM803,155L805.6,156L805.6,158L803,157ZM72.4,235.4L73.6,235.4L73.6,236.6L72.4,236.6ZM74.4,236.4L75.6,236.4L75.6,237.6L74.4,237.6ZM79.4,236.4L80.6,236.4L80.6,237.6L79.4,237.6ZM82.4,238L83.6,238L83.6,239.2L82.4,239.2ZM85.4,238.4L86.6,238.4L86.6,239.6L85.4,239.6ZM86.4,239.4L87.6,239.4L87.6,240.6L86.4,240.6ZM89.4,239.4L90.6,239.4L90.6,240.6L89.4,240.6ZM92.4,241L93.6,241L93.6,242.2L92.4,242.2ZM93.4,241.4L94.6,241.4L94.6,242.6L93.4,242.6ZM102.4,241.4L103.6,241.4L103.6,242.6L102.4,242.6ZM105,239.4L106.2,239.4L106.2,240.6L105,240.6ZM108.4,241.8L109.6,241.8L109.6,243L108.4,243ZM110.4,241.4L111.6,241.4L111.6,242.6L110.4,242.6ZM112.4,239.8L113.6,239.8L113.6,241L112.4,241ZM116.4,241.4L117.6,241.4L117.6,242.6L116.4,242.6ZM126.4,241.4L127.6,241.4L127.6,242.6L126.4,242.6ZM127.4,242.4L128.6,242.4L128.6,243.6L127.4,243.6ZM136.4,242.4L137.6,242.4L137.6,243.6L136.4,243.6ZM138.4,243.4L139.6,243.4L139.6,244.6L138.4,244.6ZM141.4,243.4L142.6,243.4L142.6,244.6L141.4,244.6ZM143.4,241.8L144.6,241.8L144.6,243L143.4,243ZM145.4,243.4L146.6,243.4L146.6,244.6L145.4,244.6ZM148.4,243.4L149.6,243.4L149.6,244.6L148.4,244.6ZM151.4,245.4L152.6,245.4L152.6,246.6L151.4,246.6ZM164.4,245.4L165.6,245.4L165.6,246.6L164.4,246.6ZM166.4,246.4L167.6,246.4L167.6,247.6L166.4,247.6ZM168.4,246.4L169.6,246.4L169.6,247.6L168.4,247.6ZM172.4,248L173.6,248L173.6,249.2L172.4,249.2ZM177.4,248L178.6,248L178.6,249.2L177.4,249.2ZM179.4,246.4L180.6,246.4L180.6,247.6L179.4,247.6ZM181.4,248L182.6,248L182.6,249.2L181.4,249.2ZM184.4,246.4L185.6,246.4L185.6,247.6L184.4,247.6ZM195.4,246.4L196.6,246.4L196.6,247.6L195.4,247.6ZM197.8,248L199,248L199,249.2L197.8,249.2ZM200.4,246.4L201.6,246.4L201.6,247.6L200.4,247.6ZM213.4,246.4L214.6,246.4L214.6,247.6L213.4,247.6ZM217.4,249.4L218.6,249.4L218.6,250.6L217.4,250.6ZM220.4,248.4L221.6,248.4L221.6,249.6L220.4,249.6ZM223.4,248.4L224.6,248.4L224.6,249.6L223.4,249.6ZM226.4,246.4L227.6,246.4L227.6,247.6L226.4,247.6ZM231,248L232.2,248L232.2,249.2L231,249.2ZM233,246.4L234.2,246.4L234.2,247.6L233,247.6ZM235.4,248L236.6,248L236.6,249.2L235.4,249.2ZM239.4,246.4L240.6,246.4L240.6,247.6L239.4,247.6ZM241.4,243.8L242.6,243.8L242.6,245L241.4,245ZM248.4,243.4L249.6,243.4L249.6,244.6L248.4,244.6ZM252.4,246.4L253.6,246.4L253.6,247.6L252.4,247.6ZM256.4,246.8L257.6,246.8L257.6,248L256.4,248ZM263.4,242.4L264.6,242.4L264.6,243.6L263.4,243.6ZM270.4,241.8L271.6,241.8L271.6,243L270.4,243ZM274.4,239.4L275.6,239.4L275.6,240.6L274.4,240.6ZM279.4,239.4L280.6,239.4L280.6,240.6L279.4,240.6ZM282.4,238.4L283.6,238.4L283.6,239.6L282.4,239.6ZM285.4,237.8L286.6,237.8L286.6,239L285.4,239ZM287,236.4L288.2,236.4L288.2,237.6L287,237.6ZM289.4,238.4L290.6,238.4L290.6,239.6L289.4,239.6ZM293.4,235.8L294.6,235.8L294.6,237L293.4,237ZM305.4,235.4L306.6,235.4L306.6,236.6L305.4,236.6ZM307.8,233.4L309,233.4L309,234.6L307.8,234.6ZM310.4,235.8L311.6,235.8L311.6,237L310.4,237ZM312.4,235.4L313.6,235.4L313.6,236.6L312.4,236.6ZM315.4,233.4L316.6,233.4L316.6,234.6L315.4,234.6ZM319.4,232.4L320.6,232.4L320.6,233.6L319.4,233.6ZM323.4,232.4L324.6,232.4L324.6,233.6L323.4,233.6ZM326.4,233.4L327.6,233.4L327.6,234.6L326.4,234.6ZM328.4,233.4L329.6,233.4L329.6,234.6L328.4,234.6ZM330.4,232.4L331.6,232.4L331.6,233.6L330.4,233.6ZM340.4,232.4L341.6,232.4L341.6,233.6L340.4,233.6ZM344.4,230.4L345.6,230.4L345.6,231.6L344.4,231.6ZM354.4,229L355.6,229L355.6,230.2L354.4,230.2ZM357.4,227.4L358.6,227.4L358.6,228.6L357.4,228.6ZM362.4,225.4L363.6,225.4L363.6,226.6L362.4,226.6ZM367.4,223L368.6,223L368.6,224.2L367.4,224.2ZM371.4,221L372.6,221L372.6,222.2L371.4,222.2ZM376.4,220.4L377.6,220.4L377.6,221.6L376.4,221.6ZM380.4,217L381.6,217L381.6,218.2L380.4,218.2ZM387.4,214L388.6,214L388.6,215.2L387.4,215.2ZM389.8,212.4L391,212.4L391,213.6L389.8,213.6ZM392.4,214.4L393.6,214.4L393.6,215.6L392.4,215.6ZM397.4,210L398.6,210L398.6,211.2L397.4,211.2ZM401.4,207.4L402.6,207.4L402.6,208.6L401.4,208.6ZM405.4,207L406.6,207L406.6,208.2L405.4,208.2ZM408.4,205.4L409.6,205.4L409.6,206.6L408.4,206.6ZM413.1,204.9L414.4,204.9L414.4,206.1L413.1,206.1ZM417.6,204L418.9,204L418.9,205.2L417.6,205.2ZM419.9,202.4L421.1,202.4L421.1,203.6L419.9,203.6ZM423.6,201.8L424.9,201.8L424.9,203L423.6,203ZM430.4,201.4L431.6,201.4L431.6,202.6L430.4,202.6ZM434.1,198.2L435.4,198.2L435.4,199.3L434.1,199.3ZM437.1,199.4L438.4,199.4L438.4,200.6L437.1,200.6ZM440.1,198.2L441.4,198.2L441.4,199.3L440.1,199.3ZM446.1,198.2L447.4,198.2L447.4,199.3L446.1,199.3ZM449.1,195.9L450.4,195.9L450.4,197.1L449.1,197.1ZM453.6,195.9L454.9,195.9L454.9,197.1L453.6,197.1ZM456.2,198.3L457.4,198.3L457.4,199.5L456.2,199.5ZM467.1,198.3L468.4,198.3L468.4,199.5L467.1,199.5ZM471.6,201.2L472.9,201.2L472.9,202.3L471.6,202.3ZM473.9,198.9L475.1,198.9L475.1,200.1L473.9,200.1ZM476.9,201.4L478.1,201.4L478.1,202.6L476.9,202.6ZM502.4,201.4L503.6,201.4L503.6,202.6L502.4,202.6ZM504.2,202.7L505.4,202.7L505.4,203.8L504.2,203.8ZM506.1,201.4L507.4,201.4L507.4,202.6L506.1,202.6ZM509.9,201.4L511.1,201.4L511.1,202.6L509.9,202.6ZM512.9,198.3L514.1,198.3L514.1,199.5L512.9,199.5ZM517.4,198.3L518.6,198.3L518.6,199.5L517.4,199.5ZM519.6,199.4L520.9,199.4L520.9,200.6L519.6,200.6ZM523.4,196.3L524.6,196.3L524.6,197.5L523.4,197.5ZM527.9,195.9L529.1,195.9L529.1,197.1L527.9,197.1ZM529.4,195.2L530.6,195.2L530.6,196.3L529.4,196.3ZM533.1,195L534.4,195L534.4,196.2L533.1,196.2ZM535.7,193.3L536.9,193.3L536.9,194.5L535.7,194.5ZM537.6,195.2L538.9,195.2L538.9,196.3L537.6,196.3ZM544.4,195.2L545.6,195.2L545.6,196.3L544.4,196.3ZM547.4,195.4L548.6,195.4L548.6,196.6L547.4,196.6ZM555.4,193.4L556.6,193.4L556.6,194.6L555.4,194.6ZM561.4,192.4L562.6,192.4L562.6,193.6L561.4,193.6ZM567.4,190.4L568.6,190.4L568.6,191.6L567.4,191.6ZM574.4,190.4L575.6,190.4L575.6,191.6L574.4,191.6ZM579.4,193.4L580.6,193.4L580.6,194.6L579.4,194.6ZM585.4,193.4L586.6,193.4L586.6,194.6L585.4,194.6ZM590.4,195.4L591.6,195.4L591.6,196.6L590.4,196.6ZM595.4,194.4L596.6,194.4L596.6,195.6L595.4,195.6ZM599.4,195.4L600.6,195.4L600.6,196.6L599.4,196.6ZM604.4,193.4L605.6,193.4L605.6,194.6L604.4,194.6ZM612.4,193.4L613.6,193.4L613.6,194.6L612.4,194.6ZM618.4,190.4L619.6,190.4L619.6,191.6L618.4,191.6ZM627.4,190.4L628.6,190.4L628.6,191.6L627.4,191.6ZM633.4,189L634.6,189L634.6,190.2L633.4,190.2ZM636.4,186.4L637.6,186.4L637.6,187.6L636.4,187.6ZM639.4,185.8L640.6,185.8L640.6,187L639.4,187ZM640.4,184.4L641.6,184.4L641.6,185.6L640.4,185.6ZM642.4,186.4L643.6,186.4L643.6,187.6L642.4,187.6ZM647.4,183L648.6,183L648.6,184.2L647.4,184.2ZM653.4,180.4L654.6,180.4L654.6,181.6L653.4,181.6ZM656.4,178.4L657.6,178.4L657.6,179.6L656.4,179.6ZM658.4,180.4L659.6,180.4L659.6,181.6L658.4,181.6ZM662.4,177.8L663.6,177.8L663.6,179L662.4,179ZM668.4,177.4L669.6,177.4L669.6,178.6L668.4,178.6ZM673.4,174.4L674.6,174.4L674.6,175.6L673.4,175.6ZM678.4,173.4L679.6,173.4L679.6,174.6L678.4,174.6ZM686.4,173.4L687.6,173.4L687.6,174.6L686.4,174.6ZM689.4,174.4L690.6,174.4L690.6,175.6L689.4,175.6ZM693.4,173.4L694.6,173.4L694.6,174.6L693.4,174.6ZM702.4,173.4L703.6,173.4L703.6,174.6L702.4,174.6ZM705.4,174.4L706.6,174.4L706.6,175.6L705.4,175.6ZM711.4,173.4L712.6,173.4L712.6,174.6L711.4,174.6ZM715,171L716.2,171L716.2,172.2L715,172.2ZM716.4,171.8L717.6,171.8L717.6,173L716.4,173ZM720.4,171.4L721.6,171.4L721.6,172.6L720.4,172.6ZM726.4,167.8L727.6,167.8L727.6,169L726.4,169ZM732.4,167.4L733.6,167.4L733.6,168.6L732.4,168.6ZM735.4,165.8L736.6,165.8L736.6,167L735.4,167ZM746.4,165.4L747.6,165.4L747.6,166.6L746.4,166.6ZM751.4,162L752.6,162L752.6,163.2L751.4,163.2ZM757.4,159L758.6,159L758.6,160.2L757.4,160.2ZM761.4,158.4L762.6,158.4L762.6,159.6L761.4,159.6ZM765.4,155.8L766.6,155.8L766.6,157L765.4,157ZM771.4,155.4L772.6,155.4L772.6,156.6L771.4,156.6ZM774.4,153.8L775.6,153.8L775.6,155L774.4,155ZM780.4,153.4L781.6,153.4L781.6,154.6L780.4,154.6ZM783.8,152L785,152L785,153.2L783.8,153.2ZM787.4,154L788.6,154L788.6,155.2L787.4,155.2ZM791,156.4L792.2,156.4L792.2,157.6L791,157.6ZM793.4,155.4L794.6,155.4L794.6,156.6L793.4,156.6ZM802.4,155.4L803.6,155.4L803.6,156.6L802.4,156.6Z"/>
<path shape-rendering="crispEdges" fill="#0000cd" d="M70,332L72,332L72,334L70,334ZM73,333L77,341L75,341L71,333ZM76,340L78,341L78,343L76,342ZM79,342L81,347L79,347L77,342ZM81,347L82.6,351L80.6,351L79,347ZM82.6,351L84.6,358L82.6,358L80.6,351ZM83.6,357L87,357L87,359L83.6,359ZM86,358L89.4,349L91.4,349L88,358ZM90.4,348L100,348L100,350L90.4,350ZM101,349L103.4,356L101.4,356L99,349ZM103.4,356L105.4,365L103.4,365L101.4,356ZM104.4,364L106,364L106,366L104.4,366ZM105,365L107,349L109,349L107,365ZM108,348L134,348L134,350L108,350ZM135,349L137.4,358L135.4,358L133,349ZM136.4,357L157.6,357L157.6,359L136.4,359ZM158.6,358L160.6,365L158.6,365L156.6,358ZM159.6,364L163.6,364L163.6,366L159.6,366ZM162.6,365L166,358L168,358L164.6,365ZM167,357L172,357L172,359L167,359ZM173,358L176,365L174,365L171,358ZM175,364L176,364L176,366L175,366ZM175,365L179,346L181,346L177,365ZM179,346L182,337L184,337L181,346ZM182,337L186,325L188,325L184,337ZM187,324L191,324L191,326L187,326ZM192,325L195,338L193,338L190,325ZM195,338L197,342L195,342L193,338ZM196,341L198.4,341L198.4,343L196,343ZM199.4,342L201.4,349L199.4,349L197.4,342ZM199.4,349L202,342L204,342L201.4,349ZM203,341L205.6,341L205.6,343L203,343ZM206.6,342L209.4,349L207.4,349L204.6,342ZM209.4,349L211.4,358L209.4,358L207.4,349ZM209.4,358L212.6,342L214.6,342L211.4,358ZM213.6,341L221,341L221,343L213.6,343ZM220,342L222.6,333L224.6,333L222,342ZM223.6,332L226.4,332L226.4,334L223.6,334ZM225.4,333L230.6,316L232.6,316L227.4,333ZM231.6,315L242,315L242,317L231.6,317ZM243,316L245.4,325L243.4,325L241,316ZM243.4,325L246,316L248,316L245.4,325ZM247,315L251,315L251,317L247,317ZM250,316L253.4,309L255.4,309L252,316ZM254.4,308L259.6,308L259.6,310L254.4,310ZM260.6,309L263.4,325L261.4,325L258.6,309ZM263.4,325L266.6,338L264.6,338L261.4,325ZM266.6,338L269,349L267,349L264.6,338ZM268,348L269.6,348L269.6,350L268,350ZM268.6,349L271.4,325L273.4,325L270.6,349ZM272.4,324L280,324L280,326L272.4,326ZM281,325L283,338L281,338L279,325ZM283,338L285.4,349L283.4,349L281,338ZM283.4,349L287,333L289,333L285.4,349ZM287,333L289,325L291,325L289,333ZM290,324L295,324L295,326L290,326ZM296,325L298.6,333L296.6,333L294,325ZM297.6,332L300,332L300,334L297.6,334ZM299,333L302,325L304,325L301,333ZM303,324L318,324L318,326L303,326ZM319,325L321.4,333L319.4,333L317,325ZM319.4,333L325.4,316L327.4,316L321.4,333ZM326.4,315L331.6,315L331.6,317L326.4,317ZM332.6,316L334.6,325L332.6,325L330.6,316ZM332.6,325L336,309L338,309L334.6,325ZM337,308L338.4,308L338.4,310L337,310ZM339.4,309L342.6,325L340.6,325L337.4,309ZM340.6,325L344,303L346,303L342.6,325ZM344,303L346,292.4L348,292.4L346,303ZM347,291.4L349,291.4L349,293.4L347,293.4ZM348,292.4L349.4,281L351.4,281L350,292.4ZM349.4,281L349.6,260L351.6,260L351.4,281ZM349.6,260L351,251L353,251L351.6,260ZM352,250L356,250L356,252L352,252ZM357,251L359,259L357,259L355,251ZM359,259L360.6,267L358.6,267L357,259ZM358.6,267L361,260L363,260L360.6,267ZM362,259L369.6,259L369.6,261L362,261ZM368.6,260L371,245L373,245L370.6,260ZM371,245L373.4,241.6L375.4,241.6L373,245ZM373.4,241.6L376.6,226.6L378.6,226.6L375.4,241.6ZM377.6,225.6L382,225.6L382,227.6L377.6,227.6ZM383,226.6L386,241.6L384,241.6L381,226.6ZM386,241.6L389,245L387,245L384,241.6ZM389,245L391.4,251L389.4,251L387,245ZM389.4,251L392,242.4L394,242.4L391.4,251ZM393,241.4L397.6,241.4L397.6,243.4L393,243.4ZM398.6,242.4L401.4,251L399.4,251L396.6,242.4ZM399.4,251L402,242.4L404,242.4L401.4,251ZM403,241.4L408.6,241.4L408.6,243.4L403,243.4ZM409.6,242.4L411.4,251L409.4,251L407.6,242.4ZM410.4,250L412.4,251L412.4,253L410.4,252ZM413.4,252L415,256L413,256L411.4,252ZM415,256L416.6,267L414.6,267L413,256ZM415.6,266L423,266L423,268L415.6,268ZM422,267L424,260L426,260L424,267ZM425,259L431,259L431,261L425,261ZM430,260L432,252L434,252L432,260ZM432,252L433.4,245L435.4,245L434,252ZM433.4,245L435.4,234L437.4,234L435.4,245ZM436.4,233L441,233L441,235L436.4,235ZM442,234L444,242.4L442,242.4L440,234ZM443,241.4L454,241.4L454,243.4L443,243.4ZM455,242.4L456.6,256L454.6,256L453,242.4ZM456.6,256L457.6,267L455.6,267L454.6,256ZM455.6,267L458,260L460,260L457.6,267ZM458,260L460,242.4L462,242.4L460,260ZM461,241.4L466.4,241.4L466.4,243.4L461,243.4ZM467.4,242.4L469,251L467,251L465.4,242.4ZM469,251L470.6,260L468.6,260L467,251ZM468.6,260L471.4,251L473.4,251L470.6,260ZM472.4,250L477,250L477,252L472.4,252ZM478,251L480.6,260L478.6,260L476,251ZM479.6,259L484,259L484,261L479.6,261ZM485,260L487,280L485,280L483,260ZM487,280L488.6,300L486.6,300L485,280ZM486.6,300L489,267L491,267L488.6,300ZM490,266L502,266L502,268L490,268ZM501,267L502.6,260L504.6,260L503,267ZM502.6,260L504.6,251L506.6,251L504.6,260ZM505.6,250L510.4,250L510.4,252L505.6,252ZM511.4,251L514.6,260L512.6,260L509.4,251ZM513.6,259L516,259L516,261L513.6,261ZM515,260L517.4,251L519.4,251L517,260ZM518.4,250L523.6,250L523.6,252L518.4,252ZM524.6,251L527,260L525,260L522.6,251ZM526,259L529,259L529,261L526,261ZM530,260L532,267L530,267L528,260ZM532,267L534.6,276L532.6,276L530,267ZM533.6,275L536,275L536,277L533.6,277ZM535,276L537.4,251L539.4,251L537,276ZM538.4,250L541,250L541,252L538.4,252ZM542,251L544.6,260L542.6,260L540,251ZM543.6,259L546,259L546,261L543.6,261ZM547,260L553,276L551,276L545,260ZM552,275L554.4,275L554.4,277L552,277ZM555.4,276L558,300L556,300L553.4,276ZM557,299L561,299L561,301L557,301ZM560,300L564,292.4L566,292.4L562,300ZM565,291.4L567,291.4L567,293.4L565,293.4ZM566,292.4L568.6,283L570.6,283L568,292.4ZM569.6,282L574.4,282L574.4,284L569.6,284ZM575.4,283L578,292.4L576,292.4L573.4,283ZM576,292.4L578,283L580,283L578,292.4ZM579,282L592.4,282L592.4,284L579,284ZM593.4,283L596.6,292.4L594.6,292.4L591.4,283ZM595.6,291.4L599,291.4L599,293.4L595.6,293.4ZM600,292.4L603.4,300L601.4,300L598,292.4ZM602.4,299L605,299L605,301L602.4,301ZM604,300L606.6,292.4L608.6,292.4L606,300ZM607.6,291.4L615,291.4L615,293.4L607.6,293.4ZM614,292.4L617,276L619,276L616,292.4ZM618,275L625,275L625,277L618,277ZM626,276L630,283L628,283L624,276ZM629,282L641.6,282L641.6,284L629,284ZM640.6,283L642.6,276L644.6,276L642.6,283ZM643.6,275L646,275L646,277L643.6,277ZM645,276L647.4,260L649.4,260L647,276ZM648.4,259L653,259L653,261L648.4,261ZM654,260L660.6,276L658.6,276L652,260ZM659.6,275L661.6,275L661.6,277L659.6,277ZM660.6,276L665.7,260L667.7,260L662.6,276ZM666.7,259L674.4,259L674.4,261L666.7,261ZM675.4,260L676.4,270L674.4,270L673.4,260ZM676.4,270L678,300L676,300L674.4,270ZM677,299L682.2,299L682.2,301L677,301ZM681.2,300L683.5,282.7L685.5,282.7L683.2,300ZM684.5,281.7L687.5,281.7L687.5,283.7L684.5,283.7ZM688.5,282.7L690.4,292L688.4,292L686.5,282.7ZM688.4,292L690.9,282.7L692.9,282.7L690.4,292ZM691.9,281.7L697.3,281.7L697.3,283.7L691.9,283.7ZM698.3,282.7L702.1,309L700.1,309L696.3,282.7ZM701.1,308L702.5,308L702.5,310L701.1,310ZM701.5,309L706.3,282.7L708.3,282.7L703.5,309ZM707.3,281.7L710.2,281.7L710.2,283.7L707.3,283.7ZM709.2,282.7L711.5,267L713.5,267L711.2,282.7ZM712.5,266L717.4,266L717.4,268L712.5,268ZM718.4,267L721.4,282.7L719.4,282.7L716.4,267ZM720.4,281.7L725.3,281.7L725.3,283.7L720.4,283.7ZM726.3,282.7L729.3,300L727.3,300L724.3,282.7ZM728.3,299L730.4,299L730.4,301L728.3,301ZM731.4,300L735.4,320L733.4,320L729.4,300ZM735.4,320L736.6,324.6L734.6,324.6L733.4,320ZM735.6,323.6L741,325L741,327L735.6,325.6ZM742,326L747,340L745,340L740,326ZM746,339L748.4,341L748.4,343L746,341ZM749.4,342L752.6,349L750.6,349L747.4,342ZM750.6,349L755,333L757,333L752.6,349ZM756,332L781,332L781,334L756,334ZM780,333L783,325L785,325L782,333ZM784,324L789,323.6L789,325.6L784,326ZM788,324.6L791,316L793,316L790,324.6ZM792,315L795,313L795,315L792,317ZM794,314L797,309L799,309L796,314ZM798,308L806,308L806,310L798,310ZM71.4,332.4L72.6,332.4L72.6,333.6L71.4,333.6ZM75.4,340.4L76.6,340.4L76.6,341.6L75.4,341.6ZM77.4,341.4L78.6,341.4L78.6,342.6L77.4,342.6ZM79.4,346.4L80.6,346.4L80.6,347.6L79.4,347.6ZM81,350.4L82.2,350.4L82.2,351.6L81,351.6ZM83,357.4L84.2,357.4L84.2,358.6L83,358.6ZM86.4,357.4L87.6,357.4L87.6,358.6L86.4,358.6ZM89.8,348.4L91,348.4L91,349.6L89.8,349.6ZM99.4,348.4L100.6,348.4L100.6,349.6L99.4,349.6ZM101.8,355.4L103,355.4L103,356.6L101.8,356.6ZM103.8,364.4L105,364.4L105,365.6L103.8,365.6ZM105.4,364.4L106.6,364.4L106.6,365.6L105.4,365.6ZM107.4,348.4L108.6,348.4L108.6,349.6L107.4,349.6ZM133.4,348.4L134.6,348.4L134.6,349.6L133.4,349.6ZM135.8,357.4L137,357.4L137,358.6L135.8,358.6ZM157,357.4L158.2,357.4L158.2,358.6L157,358.6ZM159,364.4L160.2,364.4L160.2,365.6L159,365.6ZM163,364.4L164.2,364.4L164.2,365.6L163,365.6ZM166.4,357.4L167.6,357.4L167.6,358.6L166.4,358.6ZM171.4,357.4L172.6,357.4L172.6,358.6L171.4,358.6ZM174.4,364.4L175.6,364.4L175.6,365.6L174.4,365.6ZM175.4,364.4L176.6,364.4L176.6,365.6L175.4,365.6ZM179.4,345.4L180.6,345.4L180.6,346.6L179.4,346.6ZM182.4,336.4L183.6,336.4L183.6,337.6L182.4,337.6ZM186.4,324.4L187.6,324.4L187.6,325.6L186.4,325.6ZM190.4,324.4L191.6,324.4L191.6,325.6L190.4,325.6ZM193.4,337.4L194.6,337.4L194.6,338.6L193.4,338.6ZM195.4,341.4L196.6,341.4L196.6,342.6L195.4,342.6ZM197.8,341.4L199,341.4L199,342.6L197.8,342.6ZM199.8,348.4L201,348.4L201,349.6L199.8,349.6ZM202.4,341.4L203.6,341.4L203.6,342.6L202.4,342.6ZM205,341.4L206.2,341.4L206.2,342.6L205,342.6ZM207.8,348.4L209,348.4L209,349.6L207.8,349.6ZM209.8,357.4L211,357.4L211,358.6L209.8,358.6ZM213,341.4L214.2,341.4L214.2,342.6L213,342.6ZM220.4,341.4L221.6,341.4L221.6,342.6L220.4,342.6ZM223,332.4L224.2,332.4L224.2,333.6L223,333.6ZM225.8,332.4L227,332.4L227,333.6L225.8,333.6ZM231,315.4L232.2,315.4L232.2,316.6L231,316.6ZM241.4,315.4L242.6,315.4L242.6,316.6L241.4,316.6ZM243.8,324.4L245,324.4L245,325.6L243.8,325.6ZM246.4,315.4L247.6,315.4L247.6,316.6L246.4,316.6ZM250.4,315.4L251.6,315.4L251.6,316.6L250.4,316.6ZM253.8,308.4L255,308.4L255,309.6L253.8,309.6ZM259,308.4L260.2,308.4L260.2,309.6L259,309.6ZM261.8,324.4L263,324.4L263,325.6L261.8,325.6ZM265,337.4L266.2,337.4L266.2,338.6L265,338.6ZM267.4,348.4L268.6,348.4L268.6,349.6L267.4,349.6ZM269,348.4L270.2,348.4L270.2,349.6L269,349.6ZM271.8,324.4L273,324.4L273,325.6L271.8,325.6ZM279.4,324.4L280.6,324.4L280.6,325.6L279.4,325.6ZM281.4,337.4L282.6,337.4L282.6,338.6L281.4,338.6ZM283.8,348.4L285,348.4L285,349.6L283.8,349.6ZM287.4,332.4L288.6,332.4L288.6,333.6L287.4,333.6ZM289.4,324.4L290.6,324.4L290.6,325.6L289.4,325.6ZM294.4,324.4L295.6,324.4L295.6,325.6L294.4,325.6ZM297,332.4L298.2,332.4L298.2,333.6L297,333.6ZM299.4,332.4L300.6,332.4L300.6,333.6L299.4,333.6ZM302.4,324.4L303.6,324.4L303.6,325.6L302.4,325.6ZM317.4,324.4L318.6,324.4L318.6,325.6L317.4,325.6ZM319.8,332.4L321,332.4L321,333.6L319.8,333.6ZM325.8,315.4L327,315.4L327,316.6L325.8,316.6ZM331,315.4L332.2,315.4L332.2,316.6L331,316.6ZM333,324.4L334.2,324.4L334.2,325.6L333,325.6ZM336.4,308.4L337.6,308.4L337.6,309.6L336.4,309.6ZM337.8,308.4L339,308.4L339,309.6L337.8,309.6ZM341,324.4L342.2,324.4L342.2,325.6L341,325.6ZM344.4,302.4L345.6,302.4L345.6,303.6L344.4,303.6ZM346.4,291.8L347.6,291.8L347.6,293L346.4,293ZM348.4,291.8L349.6,291.8L349.6,293L348.4,293ZM349.8,280.4L351,280.4L351,281.6L349.8,281.6ZM350,259.4L351.2,259.4L351.2,260.6L350,260.6ZM351.4,250.4L352.6,250.4L352.6,251.6L351.4,251.6ZM355.4,250.4L356.6,250.4L356.6,251.6L355.4,251.6ZM357.4,258.4L358.6,258.4L358.6,259.6L357.4,259.6ZM359,266.4L360.2,266.4L360.2,267.6L359,267.6ZM361.4,259.4L362.6,259.4L362.6,260.6L361.4,260.6ZM369,259.4L370.2,259.4L370.2,260.6L369,260.6ZM371.4,244.4L372.6,244.4L372.6,245.6L371.4,245.6ZM373.8,241L375,241L375,242.2L373.8,242.2ZM377,226L378.2,226L378.2,227.2L377,227.2ZM381.4,226L382.6,226L382.6,227.2L381.4,227.2ZM384.4,241L385.6,241L385.6,242.2L384.4,242.2ZM387.4,244.4L388.6,244.4L388.6,245.6L387.4,245.6ZM389.8,250.4L391,250.4L391,251.6L389.8,251.6ZM392.4,241.8L393.6,241.8L393.6,243L392.4,243ZM397,241.8L398.2,241.8L398.2,243L397,243ZM399.8,250.4L401,250.4L401,251.6L399.8,251.6ZM402.4,241.8L403.6,241.8L403.6,243L402.4,243ZM408,241.8L409.2,241.8L409.2,243L408,243ZM409.8,250.4L411,250.4L411,251.6L409.8,251.6ZM411.8,251.4L413,251.4L413,252.6L411.8,252.6ZM413.4,255.4L414.6,255.4L414.6,256.6L413.4,256.6ZM415,266.4L416.2,266.4L416.2,267.6L415,267.6ZM422.4,266.4L423.6,266.4L423.6,267.6L422.4,267.6ZM424.4,259.4L425.6,259.4L425.6,260.6L424.4,260.6ZM430.4,259.4L431.6,259.4L431.6,260.6L430.4,260.6ZM432.4,251.4L433.6,251.4L433.6,252.6L432.4,252.6ZM433.8,244.4L435,244.4L435,245.6L433.8,245.6ZM435.8,233.4L437,233.4L437,234.6L435.8,234.6ZM440.4,233.4L441.6,233.4L441.6,234.6L440.4,234.6ZM442.4,241.8L443.6,241.8L443.6,243L442.4,243ZM453.4,241.8L454.6,241.8L454.6,243L453.4,243ZM455,255.4L456.2,255.4L456.2,256.6L455,256.6ZM456,266.4L457.2,266.4L457.2,267.6L456,267.6ZM458.4,259.4L459.6,259.4L459.6,260.6L458.4,260.6ZM460.4,241.8L461.6,241.8L461.6,243L460.4,243ZM465.8,241.8L467,241.8L467,243L465.8,243ZM467.4,250.4L468.6,250.4L468.6,251.6L467.4,251.6ZM469,259.4L470.2,259.4L470.2,260.6L469,260.6ZM471.8,250.4L473,250.4L473,251.6L471.8,251.6ZM476.4,250.4L477.6,250.4L477.6,251.6L476.4,251.6ZM479,259.4L480.2,259.4L480.2,260.6L479,260.6ZM483.4,259.4L484.6,259.4L484.6,260.6L483.4,260.6ZM485.4,279.4L486.6,279.4L486.6,280.6L485.4,280.6ZM487,299.4L488.2,299.4L488.2,300.6L487,300.6ZM489.4,266.4L490.6,266.4L490.6,267.6L489.4,267.6ZM501.4,266.4L502.6,266.4L502.6,267.6L501.4,267.6ZM503,259.4L504.2,259.4L504.2,260.6L503,260.6ZM505,250.4L506.2,250.4L506.2,251.6L505,251.6ZM509.8,250.4L511,250.4L511,251.6L509.8,251.6ZM513,259.4L514.2,259.4L514.2,260.6L513,260.6ZM515.4,259.4L516.6,259.4L516.6,260.6L515.4,260.6ZM517.8,250.4L519,250.4L519,251.6L517.8,251.6ZM523,250.4L524.2,250.4L524.2,251.6L523,251.6ZM525.4,259.4L526.6,259.4L526.6,260.6L525.4,260.6ZM528.4,259.4L529.6,259.4L529.6,260.6L528.4,260.6ZM530.4,266.4L531.6,266.4L531.6,267.6L530.4,267.6ZM533,275.4L534.2,275.4L534.2,276.6L533,276.6ZM535.4,275.4L536.6,275.4L536.6,276.6L535.4,276.6ZM537.8,250.4L539,250.4L539,251.6L537.8,251.6ZM540.4,250.4L541.6,250.4L541.6,251.6L540.4,251.6ZM543,259.4L544.2,259.4L544.2,260.6L543,260.6ZM545.4,259.4L546.6,259.4L546.6,260.6L545.4,260.6ZM551.4,275.4L552.6,275.4L552.6,276.6L551.4,276.6ZM553.8,275.4L555,275.4L555,276.6L553.8,276.6ZM556.4,299.4L557.6,299.4L557.6,300.6L556.4,300.6ZM560.4,299.4L561.6,299.4L561.6,300.6L560.4,300.6ZM564.4,291.8L565.6,291.8L565.6,293L564.4,293ZM566.4,291.8L567.6,291.8L567.6,293L566.4,293ZM569,282.4L570.2,282.4L570.2,283.6L569,283.6ZM573.8,282.4L575,282.4L575,283.6L573.8,283.6ZM576.4,291.8L577.6,291.8L577.6,293L576.4,293ZM578.4,282.4L579.6,282.4L579.6,283.6L578.4,283.6ZM591.8,282.4L593,282.4L593,283.6L591.8,283.6ZM595,291.8L596.2,291.8L596.2,293L595,293ZM598.4,291.8L599.6,291.8L599.6,293L598.4,293ZM601.8,299.4L603,299.4L603,300.6L601.8,300.6ZM604.4,299.4L605.6,299.4L605.6,300.6L604.4,300.6ZM607,291.8L608.2,291.8L608.2,293L607,293ZM614.4,291.8L615.6,291.8L615.6,293L614.4,293ZM617.4,275.4L618.6,275.4L618.6,276.6L617.4,276.6ZM624.4,275.4L625.6,275.4L625.6,276.6L624.4,276.6ZM628.4,282.4L629.6,282.4L629.6,283.6L628.4,283.6ZM641,282.4L642.2,282.4L642.2,283.6L641,283.6ZM643,275.4L644.2,275.4L644.2,276.6L643,276.6ZM645.4,275.4L646.6,275.4L646.6,276.6L645.4,276.6ZM647.8,259.4L649,259.4L649,260.6L647.8,260.6ZM652.4,259.4L653.6,259.4L653.6,260.6L652.4,260.6ZM659,275.4L660.2,275.4L660.2,276.6L659,276.6ZM661,275.4L662.2,275.4L662.2,276.6L661,276.6ZM666.1,259.4L667.3,259.4L667.3,260.6L666.1,260.6ZM673.8,259.4L675,259.4L675,260.6L673.8,260.6ZM674.8,269.4L676,269.4L676,270.6L674.8,270.6ZM676.4,299.4L677.6,299.4L677.6,300.6L676.4,300.6ZM681.6,299.4L682.8,299.4L682.8,300.6L681.6,300.6ZM683.9,282.1L685.1,282.1L685.1,283.3L683.9,283.3ZM686.9,282.1L688.1,282.1L688.1,283.3L686.9,283.3ZM688.8,291.4L690,291.4L690,292.6L688.8,292.6ZM691.3,282.1L692.5,282.1L692.5,283.3L691.3,283.3ZM696.7,282.1L697.9,282.1L697.9,283.3L696.7,283.3ZM700.5,308.4L701.7,308.4L701.7,309.6L700.5,309.6ZM701.9,308.4L703.1,308.4L703.1,309.6L701.9,309.6ZM706.7,282.1L707.9,282.1L707.9,283.3L706.7,283.3ZM709.6,282.1L710.8,282.1L710.8,283.3L709.6,283.3ZM711.9,266.4L713.1,266.4L713.1,267.6L711.9,267.6ZM716.8,266.4L718,266.4L718,267.6L716.8,267.6ZM719.8,282.1L721,282.1L721,283.3L719.8,283.3ZM724.7,282.1L725.9,282.1L725.9,283.3L724.7,283.3ZM727.7,299.4L728.9,299.4L728.9,300.6L727.7,300.6ZM729.8,299.4L731,299.4L731,300.6L729.8,300.6ZM733.8,319.4L735,319.4L735,320.6L733.8,320.6ZM735,324L736.2,324L736.2,325.2L735,325.2ZM740.4,325.4L741.6,325.4L741.6,326.6L740.4,326.6ZM745.4,339.4L746.6,339.4L746.6,340.6L745.4,340.6ZM747.8,341.4L749,341.4L749,342.6L747.8,342.6ZM751,348.4L752.2,348.4L752.2,349.6L751,349.6ZM755.4,332.4L756.6,332.4L756.6,333.6L755.4,333.6ZM780.4,332.4L781.6,332.4L781.6,333.6L780.4,333.6ZM783.4,324.4L784.6,324.4L784.6,325.6L783.4,325.6ZM788.4,324L789.6,324L789.6,325.2L788.4,325.2ZM791.4,315.4L792.6,315.4L792.6,316.6L791.4,316.6ZM794.4,313.4L795.6,313.4L795.6,314.6L794.4,314.6ZM797.4,308.4L798.6,308.4L798.6,309.6L797.4,309.6Z"/>
<polyline fill="none" stroke="#ff8000" stroke-width="1.8" points="269.6,365 277,357 285.3,349.4 295,340.8 300.6,337.7 306.3,333.2 311.9,329 317.5,325.3 323.2,322 328.8,318 334.4,314.1 340,311.3 344,309.6 350,305.5 360,300 370,295 380,291 390,288 400,285 410,282.6 420,281 430,280.4 442,280.4 458,281.4 470,283.7 487.5,288.1 505,295.1 522.5,303.9 540,313.5 557.5,324 575,335.3 587.2,343.7 602.5,357.5 611.25,364"/>
<path shape-rendering="crispEdges" fill="#000000" d="M70,347.6L80,347.6L80,349.6L70,349.6ZM81,348.6L86,365L84,365L79,348.6ZM85,364L93,364L93,366L85,366ZM92,365L94.6,358L96.6,358L94,365ZM95.6,357L103,357L103,359L95.6,359ZM104,358L106,365L104,365L102,358ZM105,364L114,364L114,366L105,366ZM113,365L116,358L118,358L115,365ZM117,357L131.6,357L131.6,359L117,359ZM132.6,358L135.4,365L133.4,365L130.6,358ZM134.4,364L180,364L180,366L134.4,366ZM179,365L182,358L184,358L181,365ZM183,357L185,357L185,359L183,359ZM184,358L187,349L189,349L186,358ZM188,348L195.6,348L195.6,350L188,350ZM196.6,349L199.4,358L197.4,358L194.6,349ZM198.4,357L208.4,357L208.4,359L198.4,359ZM209.4,358L212,365L210,365L207.4,358ZM210,365L212,358L214,358L212,365ZM213,357L225.6,357L225.6,359L213,359ZM224.6,358L228,349L230,349L226.6,358ZM228,349L233,333L235,333L230,349ZM234,332L242.4,332L242.4,334L234,334ZM243.4,333L248,342L246,342L241.4,333ZM248,342L252.6,358L250.6,358L246,342ZM250.6,358L255.4,342L257.4,342L252.6,358ZM256.4,341L261.6,341L261.6,343L256.4,343ZM262.6,342L270.6,365L268.6,365L260.6,342ZM269.6,364L270.4,364L270.4,366L269.6,366ZM269.4,365L273.4,342L275.4,342L271.4,365ZM274.4,341L282.4,341L282.4,343L274.4,343ZM283.4,342L289,358L287,358L281.4,342ZM288,357L290,357L290,359L288,359ZM289,358L291.4,349L293.4,349L291,358ZM292.4,348L297.6,348L297.6,350L292.4,350ZM298.6,349L301.4,358L299.4,358L296.6,349ZM299.4,358L302.6,349L304.6,349L301.4,358ZM303.6,348L309,348L309,350L303.6,350ZM310,349L312.6,358L310.6,358L308,349ZM311.6,357L315.6,357L315.6,359L311.6,359ZM314.6,358L317.4,349L319.4,349L316.6,358ZM318.4,348L344,348L344,350L318.4,350ZM343,349L345.4,342L347.4,342L345,349ZM346.4,341L351,341L351,343L346.4,343ZM350,342L352,330L354,330L352,342ZM352,330L353.2,314.5L355.2,314.5L354,330ZM353.2,314.5L354.8,310L356.8,310L355.2,314.5ZM355.8,309L358.8,306.8L358.8,308.8L355.8,311ZM357.8,307.8L360.8,299.5L362.8,299.5L359.8,307.8ZM361.8,298.5L367,298.5L367,300.5L361.8,300.5ZM368,299.5L371,308.5L369,308.5L366,299.5ZM370,307.5L372.2,307.5L372.2,309.5L370,309.5ZM371.2,308.5L373.8,293L375.8,293L373.2,308.5ZM374.8,292L387.2,292L387.2,294L374.8,294ZM388.2,293L392,299.5L390,299.5L386.2,293ZM391,298.5L397.8,298.5L397.8,300.5L391,300.5ZM396.8,299.5L401.2,282.7L403.2,282.7L398.8,299.5ZM402.2,281.7L408.2,281.7L408.2,283.7L402.2,283.7ZM409.2,282.7L411.5,292.8L409.5,292.8L407.2,282.7ZM410.5,291.8L418,291.8L418,293.8L410.5,293.8ZM419,292.8L422,308.5L420,308.5L417,292.8ZM421,307.5L433.8,307.5L433.8,309.5L421,309.5ZM432.8,308.5L437.2,282.7L439.2,282.7L434.8,308.5ZM438.2,281.7L454.8,281.7L454.8,283.7L438.2,283.7ZM455.8,282.7L460.2,299.5L458.2,299.5L453.8,282.7ZM459.2,298.5L483,298.5L483,300.5L459.2,300.5ZM484,299.5L486.6,308L484.6,308L482,299.5ZM485.6,307L488,307L488,309L485.6,309ZM489,308L492,315.6L490,315.6L487,308ZM491,314.6L514,314.6L514,316.6L491,316.6ZM513,315.6L517,309L519,309L515,315.6ZM518,308L520.4,306L520.4,308L518,310ZM519.4,307L522.6,299.6L524.6,299.6L521.4,307ZM523.6,298.6L528,298.6L528,300.6L523.6,300.6ZM529,299.6L532,315.6L530,315.6L527,299.6ZM531,314.6L536,314.6L536,316.6L531,316.6ZM535,315.6L538,309L540,309L537,315.6ZM539,308L546,308L546,310L539,310ZM547,309L550,315.6L548,315.6L545,309ZM549,314.6L556.4,314.6L556.4,316.6L549,316.6ZM557.4,315.6L561,324.6L559,324.6L555.4,315.6ZM560,323.6L589.6,323.6L589.6,325.6L560,325.6ZM590.6,324.6L594,332.6L592,332.6L588.6,324.6ZM593,331.6L607,331.6L607,333.6L593,333.6ZM606,332.6L609,324.6L611,324.6L608,332.6ZM610,323.6L630,323.6L630,325.6L610,325.6ZM629,324.6L632.6,315.6L634.6,315.6L631,324.6ZM633.6,314.6L638,314.6L638,316.6L633.6,316.6ZM639,315.6L643,324.6L641,324.6L637,315.6ZM642,323.6L643,323.6L643,325.6L642,325.6ZM642,324.6L645.4,315.6L647.4,315.6L644,324.6ZM646.4,314.6L664,314.6L664,316.6L646.4,316.6ZM663,315.6L666,309L668,309L665,315.6ZM667,308L676,308L676,310L667,310ZM677,309L683.4,332.6L681.4,332.6L675,309ZM682.4,331.6L687,331.6L687,333.6L682.4,333.6ZM686,332.6L688.6,324.6L690.6,324.6L688,332.6ZM689.6,323.6L697,323.6L697,325.6L689.6,325.6ZM698,324.6L704,341L702,341L696,324.6ZM702,341L704,336L706,336L704,341ZM704,336L706,332.6L708,332.6L706,336ZM706,332.6L710,324.6L712,324.6L708,332.6ZM711,323.6L721,323.6L721,325.6L711,325.6ZM720,324.6L722.6,315.6L724.6,315.6L722,324.6ZM723.6,314.6L728,314.6L728,316.6L723.6,316.6ZM729,315.6L732,324.6L730,324.6L727,315.6ZM731,323.6L734,325L734,327L731,325.6ZM735,326L741.4,349L739.4,349L733,326ZM740.4,348L749,348L749,350L740.4,350ZM750,349L753,358L751,358L748,349ZM752,357L753.6,357L753.6,359L752,359ZM752.6,358L755.4,349L757.4,349L754.6,358ZM756.4,348L781,348L781,350L756.4,350ZM780,349L783.4,342L785.4,342L782,349ZM784.4,341L794,341L794,343L784.4,343ZM793,342L796,333L798,333L795,342ZM797,332L806,332L806,334L797,334ZM79.4,348L80.6,348L80.6,349.2L79.4,349.2ZM84.4,364.4L85.6,364.4L85.6,365.6L84.4,365.6ZM92.4,364.4L93.6,364.4L93.6,365.6L92.4,365.6ZM95,357.4L96.2,357.4L96.2,358.6L95,358.6ZM102.4,357.4L103.6,357.4L103.6,358.6L102.4,358.6ZM104.4,364.4L105.6,364.4L105.6,365.6L104.4,365.6ZM113.4,364.4L114.6,364.4L114.6,365.6L113.4,365.6ZM116.4,357.4L117.6,357.4L117.6,358.6L116.4,358.6ZM131,357.4L132.2,357.4L132.2,358.6L131,358.6ZM133.8,364.4L135,364.4L135,365.6L133.8,365.6ZM179.4,364.4L180.6,364.4L180.6,365.6L179.4,365.6ZM182.4,357.4L183.6,357.4L183.6,358.6L182.4,358.6ZM184.4,357.4L185.6,357.4L185.6,358.6L184.4,358.6ZM187.4,348.4L188.6,348.4L188.6,349.6L187.4,349.6ZM195,348.4L196.2,348.4L196.2,349.6L195,349.6ZM197.8,357.4L199,357.4L199,358.6L197.8,358.6ZM207.8,357.4L209,357.4L209,358.6L207.8,358.6ZM210.4,364.4L211.6,364.4L211.6,365.6L210.4,365.6ZM212.4,357.4L213.6,357.4L213.6,358.6L212.4,358.6ZM225,357.4L226.2,357.4L226.2,358.6L225,358.6ZM228.4,348.4L229.6,348.4L229.6,349.6L228.4,349.6ZM233.4,332.4L234.6,332.4L234.6,333.6L233.4,333.6ZM241.8,332.4L243,332.4L243,333.6L241.8,333.6ZM246.4,341.4L247.6,341.4L247.6,342.6L246.4,342.6ZM251,357.4L252.2,357.4L252.2,358.6L251,358.6ZM255.8,341.4L257,341.4L257,342.6L255.8,342.6ZM261,341.4L262.2,341.4L262.2,342.6L261,342.6ZM269,364.4L270.2,364.4L270.2,365.6L269,365.6ZM269.8,364.4L271,364.4L271,365.6L269.8,365.6ZM273.8,341.4L275,341.4L275,342.6L273.8,342.6ZM281.8,341.4L283,341.4L283,342.6L281.8,342.6ZM287.4,357.4L288.6,357.4L288.6,358.6L287.4,358.6ZM289.4,357.4L290.6,357.4L290.6,358.6L289.4,358.6ZM291.8,348.4L293,348.4L293,349.6L291.8,349.6ZM297,348.4L298.2,348.4L298.2,349.6L297,349.6ZM299.8,357.4L301,357.4L301,358.6L299.8,358.6ZM303,348.4L304.2,348.4L304.2,349.6L303,349.6ZM308.4,348.4L309.6,348.4L309.6,349.6L308.4,349.6ZM311,357.4L312.2,357.4L312.2,358.6L311,358.6ZM315,357.4L316.2,357.4L316.2,358.6L315,358.6ZM317.8,348.4L319,348.4L319,349.6L317.8,349.6ZM343.4,348.4L344.6,348.4L344.6,349.6L343.4,349.6ZM345.8,341.4L347,341.4L347,342.6L345.8,342.6ZM350.4,341.4L351.6,341.4L351.6,342.6L350.4,342.6ZM352.4,329.4L353.6,329.4L353.6,330.6L352.4,330.6ZM353.6,313.9L354.9,313.9L354.9,315.1L353.6,315.1ZM355.1,309.4L356.4,309.4L356.4,310.6L355.1,310.6ZM358.1,307.1L359.4,307.1L359.4,308.4L358.1,308.4ZM361.1,298.9L362.4,298.9L362.4,300.1L361.1,300.1ZM366.4,298.9L367.6,298.9L367.6,300.1L366.4,300.1ZM369.4,307.9L370.6,307.9L370.6,309.1L369.4,309.1ZM371.6,307.9L372.9,307.9L372.9,309.1L371.6,309.1ZM374.2,292.4L375.4,292.4L375.4,293.6L374.2,293.6ZM386.6,292.4L387.9,292.4L387.9,293.6L386.6,293.6ZM390.4,298.9L391.6,298.9L391.6,300.1L390.4,300.1ZM397.1,298.9L398.4,298.9L398.4,300.1L397.1,300.1ZM401.6,282.1L402.9,282.1L402.9,283.3L401.6,283.3ZM407.6,282.1L408.9,282.1L408.9,283.3L407.6,283.3ZM409.9,292.1L411.1,292.1L411.1,293.4L409.9,293.4ZM417.4,292.1L418.6,292.1L418.6,293.4L417.4,293.4ZM420.4,307.9L421.6,307.9L421.6,309.1L420.4,309.1ZM433.1,307.9L434.4,307.9L434.4,309.1L433.1,309.1ZM437.6,282.1L438.9,282.1L438.9,283.3L437.6,283.3ZM454.1,282.1L455.4,282.1L455.4,283.3L454.1,283.3ZM458.6,298.9L459.9,298.9L459.9,300.1L458.6,300.1ZM482.4,298.9L483.6,298.9L483.6,300.1L482.4,300.1ZM485,307.4L486.2,307.4L486.2,308.6L485,308.6ZM487.4,307.4L488.6,307.4L488.6,308.6L487.4,308.6ZM490.4,315L491.6,315L491.6,316.2L490.4,316.2ZM513.4,315L514.6,315L514.6,316.2L513.4,316.2ZM517.4,308.4L518.6,308.4L518.6,309.6L517.4,309.6ZM519.8,306.4L521,306.4L521,307.6L519.8,307.6ZM523,299L524.2,299L524.2,300.2L523,300.2ZM527.4,299L528.6,299L528.6,300.2L527.4,300.2ZM530.4,315L531.6,315L531.6,316.2L530.4,316.2ZM535.4,315L536.6,315L536.6,316.2L535.4,316.2ZM538.4,308.4L539.6,308.4L539.6,309.6L538.4,309.6ZM545.4,308.4L546.6,308.4L546.6,309.6L545.4,309.6ZM548.4,315L549.6,315L549.6,316.2L548.4,316.2ZM555.8,315L557,315L557,316.2L555.8,316.2ZM559.4,324L560.6,324L560.6,325.2L559.4,325.2ZM589,324L590.2,324L590.2,325.2L589,325.2ZM592.4,332L593.6,332L593.6,333.2L592.4,333.2ZM606.4,332L607.6,332L607.6,333.2L606.4,333.2ZM609.4,324L610.6,324L610.6,325.2L609.4,325.2ZM629.4,324L630.6,324L630.6,325.2L629.4,325.2ZM633,315L634.2,315L634.2,316.2L633,316.2ZM637.4,315L638.6,315L638.6,316.2L637.4,316.2ZM641.4,324L642.6,324L642.6,325.2L641.4,325.2ZM642.4,324L643.6,324L643.6,325.2L642.4,325.2ZM645.8,315L647,315L647,316.2L645.8,316.2ZM663.4,315L664.6,315L664.6,316.2L663.4,316.2ZM666.4,308.4L667.6,308.4L667.6,309.6L666.4,309.6ZM675.4,308.4L676.6,308.4L676.6,309.6L675.4,309.6ZM681.8,332L683,332L683,333.2L681.8,333.2ZM686.4,332L687.6,332L687.6,333.2L686.4,333.2ZM689,324L690.2,324L690.2,325.2L689,325.2ZM696.4,324L697.6,324L697.6,325.2L696.4,325.2ZM702.4,340.4L703.6,340.4L703.6,341.6L702.4,341.6ZM704.4,335.4L705.6,335.4L705.6,336.6L704.4,336.6ZM706.4,332L707.6,332L707.6,333.2L706.4,333.2ZM710.4,324L711.6,324L711.6,325.2L710.4,325.2ZM720.4,324L721.6,324L721.6,325.2L720.4,325.2ZM723,315L724.2,315L724.2,316.2L723,316.2ZM727.4,315L728.6,315L728.6,316.2L727.4,316.2ZM730.4,324L731.6,324L731.6,325.2L730.4,325.2ZM733.4,325.4L734.6,325.4L734.6,326.6L733.4,326.6ZM739.8,348.4L741,348.4L741,349.6L739.8,349.6ZM748.4,348.4L749.6,348.4L749.6,349.6L748.4,349.6ZM751.4,357.4L752.6,357.4L752.6,358.6L751.4,358.6ZM753,357.4L754.2,357.4L754.2,358.6L753,358.6ZM755.8,348.4L757,348.4L757,349.6L755.8,349.6ZM780.4,348.4L781.6,348.4L781.6,349.6L780.4,349.6ZM783.8,341.4L785,341.4L785,342.6L783.8,342.6ZM793.4,341.4L794.6,341.4L794.6,342.6L793.4,342.6ZM796.4,332.4L797.6,332.4L797.6,333.6L796.4,333.6Z"/>
<g shape-rendering="crispEdges"><rect x="70" y="365" width="736" height="1" fill="#000"/><rect x="71" y="366" width="735" height="1" fill="#ffff00"/></g>
<circle cx="262.2" cy="360.4" r="3.7" fill="#ffff00" stroke="#000" stroke-width="1"/>
<circle cx="620.6" cy="360.4" r="3.7" fill="#ffff00" stroke="#000" stroke-width="1"/>
<g shape-rendering="crispEdges"><rect x="28" y="40" width="1" height="327" fill="#228b22"/><rect x="50" y="40" width="1" height="327" fill="#9400d3"/><rect x="70" y="40" width="1" height="327" fill="#ff0000"/><rect x="805" y="40" width="1" height="327" fill="#808080"/><rect x="825" y="40" width="1" height="327" fill="#000"/><rect x="845" y="40" width="1" height="327" fill="#00bfff"/><rect x="860" y="40" width="1" height="327" fill="#ffff00"/><rect x="875" y="40" width="1" height="327" fill="#ff8000"/><rect x="26" y="365" width="5" height="1" fill="#228b22"/><rect x="26" y="335" width="5" height="1" fill="#228b22"/><rect x="26" y="305" width="5" height="1" fill="#228b22"/><rect x="26" y="276" width="5" height="1" fill="#228b22"/><rect x="26" y="246" width="5" height="1" fill="#228b22"/><rect x="26" y="217" width="5" height="1" fill="#228b22"/><rect x="26" y="187" width="5" height="1" fill="#228b22"/><rect x="26" y="157" width="5" height="1" fill="#228b22"/><rect x="26" y="128" width="5" height="1" fill="#228b22"/><rect x="26" y="98" width="5" height="1" fill="#228b22"/><rect x="26" y="69" width="5" height="1" fill="#228b22"/><rect x="48" y="365" width="5" height="1" fill="#9400d3"/><rect x="48" y="334" width="5" height="1" fill="#9400d3"/><rect x="48" y="303" width="5" height="1" fill="#9400d3"/><rect x="48" y="272" width="5" height="1" fill="#9400d3"/><rect x="48" y="241" width="5" height="1" fill="#9400d3"/><rect x="48" y="210" width="5" height="1" fill="#9400d3"/><rect x="48" y="179" width="5" height="1" fill="#9400d3"/><rect x="48" y="148" width="5" height="1" fill="#9400d3"/><rect x="48" y="117" width="5" height="1" fill="#9400d3"/><rect x="48" y="86" width="5" height="1" fill="#9400d3"/><rect x="48" y="55" width="5" height="1" fill="#9400d3"/><rect x="68" y="365" width="5" height="1" fill="#ff0000"/><rect x="68" y="340" width="5" height="1" fill="#ff0000"/><rect x="68" y="315" width="5" height="1" fill="#ff0000"/><rect x="68" y="290" width="5" height="1" fill="#ff0000"/><rect x="68" y="265" width="5" height="1" fill="#ff0000"/><rect x="68" y="241" width="5" height="1" fill="#ff0000"/><rect x="68" y="216" width="5" height="1" fill="#ff0000"/><rect x="68" y="191" width="5" height="1" fill="#ff0000"/><rect x="68" y="166" width="5" height="1" fill="#ff0000"/><rect x="68" y="141" width="5" height="1" fill="#ff0000"/><rect x="68" y="117" width="5" height="1" fill="#ff0000"/><rect x="68" y="92" width="5" height="1" fill="#ff0000"/><rect x="68" y="67" width="5" height="1" fill="#ff0000"/><rect x="805" y="326" width="3" height="1" fill="#808080"/><rect x="805" y="287" width="3" height="1" fill="#808080"/><rect x="805" y="248" width="3" height="1" fill="#808080"/><rect x="805" y="210" width="3" height="1" fill="#808080"/><rect x="805" y="171" width="3" height="1" fill="#808080"/><rect x="805" y="132" width="3" height="1" fill="#808080"/><rect x="805" y="93" width="3" height="1" fill="#808080"/><rect x="805" y="55" width="3" height="1" fill="#808080"/><rect x="823" y="365" width="5" height="1" fill="#000"/><rect x="823" y="346" width="5" height="1" fill="#000"/><rect x="823" y="328" width="5" height="1" fill="#000"/><rect x="823" y="310" width="5" height="1" fill="#000"/><rect x="823" y="292" width="5" height="1" fill="#000"/><rect x="823" y="273" width="5" height="1" fill="#000"/><rect x="823" y="255" width="5" height="1" fill="#000"/><rect x="823" y="237" width="5" height="1" fill="#000"/><rect x="823" y="219" width="5" height="1" fill="#000"/><rect x="823" y="200" width="5" height="1" fill="#000"/><rect x="823" y="182" width="5" height="1" fill="#000"/><rect x="823" y="164" width="5" height="1" fill="#000"/><rect x="823" y="146" width="5" height="1" fill="#000"/><rect x="823" y="127" width="5" height="1" fill="#000"/><rect x="823" y="109" width="5" height="1" fill="#000"/><rect x="823" y="91" width="5" height="1" fill="#000"/><rect x="823" y="73" width="5" height="1" fill="#000"/><rect x="823" y="54" width="5" height="1" fill="#000"/><rect x="843" y="365" width="5" height="1" fill="#00bfff"/><rect x="843" y="55" width="5" height="1" fill="#00bfff"/><rect x="858" y="365" width="5" height="1" fill="#ffff00"/><rect x="858" y="303" width="5" height="1" fill="#ffff00"/><rect x="858" y="241" width="5" height="1" fill="#ffff00"/><rect x="858" y="179" width="5" height="1" fill="#ffff00"/><rect x="858" y="117" width="5" height="1" fill="#ffff00"/><rect x="858" y="55" width="5" height="1" fill="#ffff00"/><rect x="873" y="365" width="5" height="1" fill="#ff8000"/><rect x="873" y="349" width="5" height="1" fill="#ff8000"/><rect x="873" y="334" width="5" height="1" fill="#ff8000"/><rect x="873" y="318" width="5" height="1" fill="#ff8000"/><rect x="873" y="303" width="5" height="1" fill="#ff8000"/><rect x="873" y="287" width="5" height="1" fill="#ff8000"/><rect x="873" y="272" width="5" height="1" fill="#ff8000"/><rect x="873" y="256" width="5" height="1" fill="#ff8000"/><rect x="873" y="241" width="5" height="1" fill="#ff8000"/><rect x="873" y="225" width="5" height="1" fill="#ff8000"/><rect x="873" y="210" width="5" height="1" fill="#ff8000"/><rect x="85" y="367" width="1" height="1" fill="#000"/><rect x="100" y="367" width="1" height="1" fill="#000"/><rect x="116" y="367" width="1" height="1" fill="#000"/><rect x="131" y="367" width="1" height="1" fill="#000"/><rect x="146" y="367" width="1" height="1" fill="#000"/><rect x="162" y="367" width="1" height="1" fill="#000"/><rect x="177" y="367" width="1" height="1" fill="#000"/><rect x="192" y="367" width="1" height="1" fill="#000"/><rect x="208" y="367" width="1" height="1" fill="#000"/><rect x="223" y="367" width="1" height="1" fill="#000"/><rect x="239" y="367" width="1" height="1" fill="#000"/><rect x="254" y="367" width="1" height="1" fill="#000"/><rect x="269" y="367" width="1" height="1" fill="#000"/><rect x="285" y="367" width="1" height="1" fill="#000"/><rect x="300" y="367" width="1" height="1" fill="#000"/><rect x="315" y="367" width="1" height="1" fill="#000"/><rect x="331" y="367" width="1" height="1" fill="#000"/><rect x="346" y="367" width="1" height="1" fill="#000"/><rect x="361" y="367" width="1" height="1" fill="#000"/><rect x="377" y="367" width="1" height="1" fill="#000"/><rect x="392" y="367" width="1" height="1" fill="#000"/><rect x="408" y="367" width="1" height="1" fill="#000"/><rect x="423" y="367" width="1" height="1" fill="#000"/><rect x="438" y="367" width="1" height="1" fill="#000"/><rect x="454" y="367" width="1" height="1" fill="#000"/><rect x="469" y="367" width="1" height="1" fill="#000"/><rect x="484" y="367" width="1" height="1" fill="#000"/><rect x="500" y="367" width="1" height="1" fill="#000"/><rect x="515" y="367" width="1" height="1" fill="#000"/><rect x="530" y="367" width="1" height="1" fill="#000"/><rect x="546" y="367" width="1" height="1" fill="#000"/><rect x="561" y="367" width="1" height="1" fill="#000"/><rect x="577" y="367" width="1" height="1" fill="#000"/><rect x="592" y="367" width="1" height="1" fill="#000"/><rect x="607" y="367" width="1" height="1" fill="#000"/><rect x="623" y="367" width="1" height="1" fill="#000"/><rect x="638" y="367" width="1" height="1" fill="#000"/><rect x="653" y="367" width="1" height="1" fill="#000"/><rect x="669" y="367" width="1" height="1" fill="#000"/><rect x="684" y="367" width="1" height="1" fill="#000"/><rect x="700" y="367" width="1" height="1" fill="#000"/><rect x="715" y="367" width="1" height="1" fill="#000"/><rect x="730" y="367" width="1" height="1" fill="#000"/><rect x="746" y="367" width="1" height="1" fill="#000"/><rect x="761" y="367" width="1" height="1" fill="#000"/><rect x="776" y="367" width="1" height="1" fill="#000"/><rect x="792" y="367" width="1" height="1" fill="#000"/><rect x="69" y="360" width="4" height="4" fill="#707070"/></g>
<rect x="10" y="9" width="11" height="2" fill="#ff0000" shape-rendering="crispEdges"/>
<rect x="70" y="9" width="11" height="2" fill="#ff00ff" shape-rendering="crispEdges"/>
<rect x="175" y="9" width="11" height="2" fill="#9400d3" shape-rendering="crispEdges"/>
<rect x="235" y="9" width="11" height="2" fill="#228b22" shape-rendering="crispEdges"/>
<rect x="280" y="9" width="11" height="2" fill="#00bfff" shape-rendering="crispEdges"/>
<rect x="335" y="9" width="11" height="2" fill="#000" shape-rendering="crispEdges"/>
<rect x="430" y="9" width="11" height="2" fill="#0000cd" shape-rendering="crispEdges"/>
<rect x="510" y="9" width="11" height="2" fill="#707070" shape-rendering="crispEdges"/>
<rect x="585" y="9" width="11" height="2" fill="#ffff00" shape-rendering="crispEdges"/>
<rect x="650" y="9" width="11" height="2" fill="#ff8000" shape-rendering="crispEdges"/>
<text x="23" y="368.3" fill="#228b22" text-anchor="end" class="b">989</text><text x="23" y="338.7" fill="#228b22" text-anchor="end" class="b">991</text><text x="23" y="309.1" fill="#228b22" text-anchor="end" class="b">993</text><text x="23" y="279.5" fill="#228b22" text-anchor="end" class="b">995</text><text x="23" y="249.9" fill="#228b22" text-anchor="end" class="b">997</text><text x="23" y="220.3" fill="#228b22" text-anchor="end" class="b">999</text><text x="23" y="190.7" fill="#228b22" text-anchor="end" class="b">1001</text><text x="23" y="161.1" fill="#228b22" text-anchor="end" class="b">1003</text><text x="23" y="131.5" fill="#228b22" text-anchor="end" class="b">1005</text><text x="23" y="101.9" fill="#228b22" text-anchor="end" class="b">1007</text><text x="23" y="72.3" fill="#228b22" text-anchor="end" class="b">1009</text><text x="45" y="368.3" fill="#9400d3" text-anchor="end" class="b">0</text><text x="45" y="337.3" fill="#9400d3" text-anchor="end" class="b">10</text><text x="45" y="306.3" fill="#9400d3" text-anchor="end" class="b">20</text><text x="45" y="275.3" fill="#9400d3" text-anchor="end" class="b">30</text><text x="45" y="244.3" fill="#9400d3" text-anchor="end" class="b">40</text><text x="45" y="213.3" fill="#9400d3" text-anchor="end" class="b">50</text><text x="45" y="182.3" fill="#9400d3" text-anchor="end" class="b">60</text><text x="45" y="151.3" fill="#9400d3" text-anchor="end" class="b">70</text><text x="45" y="120.3" fill="#9400d3" text-anchor="end" class="b">80</text><text x="45" y="89.3" fill="#9400d3" text-anchor="end" class="b">90</text><text x="45" y="58.3" fill="#9400d3" text-anchor="end" class="b">100</text><text x="66" y="368.3" fill="#ff0000" text-anchor="end" class="b">-10</text><text x="66" y="343.5" fill="#ff0000" text-anchor="end" class="b">-8</text><text x="66" y="318.7" fill="#ff0000" text-anchor="end" class="b">-6</text><text x="66" y="293.9" fill="#ff0000" text-anchor="end" class="b">-4</text><text x="66" y="269.1" fill="#ff0000" text-anchor="end" class="b">-2</text><text x="66" y="244.3" fill="#ff0000" text-anchor="end" class="b">0</text><text x="66" y="219.5" fill="#ff0000" text-anchor="end" class="b">2</text><text x="66" y="194.7" fill="#ff0000" text-anchor="end" class="b">4</text><text x="66" y="169.9" fill="#ff0000" text-anchor="end" class="b">6</text><text x="66" y="145.1" fill="#ff0000" text-anchor="end" class="b">8</text><text x="66" y="120.3" fill="#ff0000" text-anchor="end" class="b">10</text><text x="66" y="95.5" fill="#ff0000" text-anchor="end" class="b">12</text><text x="66" y="70.7" fill="#ff0000" text-anchor="end" class="b">14</text><text x="808" y="329.55" fill="#6e6e6e" stroke="#6e6e6e" text-anchor="start" class="">45</text><text x="818" y="336.95" fill="#6e6e6e" stroke="#6e6e6e" text-anchor="end" class="">NE</text><text x="808" y="290.8" fill="#6e6e6e" stroke="#6e6e6e" text-anchor="start" class="">90</text><text x="818" y="298.2" fill="#6e6e6e" stroke="#6e6e6e" text-anchor="end" class="">E</text><text x="808" y="252.05" fill="#6e6e6e" stroke="#6e6e6e" text-anchor="start" class="">135</text><text x="818" y="259.45" fill="#6e6e6e" stroke="#6e6e6e" text-anchor="end" class="">SE</text><text x="808" y="213.3" fill="#6e6e6e" stroke="#6e6e6e" text-anchor="start" class="">180</text><text x="818" y="220.7" fill="#6e6e6e" stroke="#6e6e6e" text-anchor="end" class="">S</text><text x="808" y="174.55" fill="#6e6e6e" stroke="#6e6e6e" text-anchor="start" class="">225</text><text x="818" y="181.95" fill="#6e6e6e" stroke="#6e6e6e" text-anchor="end" class="">SW</text><text x="808" y="135.8" fill="#6e6e6e" stroke="#6e6e6e" text-anchor="start" class="">270</text><text x="818" y="143.2" fill="#6e6e6e" stroke="#6e6e6e" text-anchor="end" class="">W</text><text x="808" y="97.05" fill="#6e6e6e" stroke="#6e6e6e" text-anchor="start" class="">315</text><text x="818" y="104.45" fill="#6e6e6e" stroke="#6e6e6e" text-anchor="end" class="">NW</text><text x="808" y="58.3" fill="#6e6e6e" stroke="#6e6e6e" text-anchor="start" class="">360</text><text x="818" y="65.7" fill="#6e6e6e" stroke="#6e6e6e" text-anchor="end" class="">N</text><text x="829" y="368.3" fill="#000" text-anchor="start" class="b">0</text><text x="829" y="350.06" fill="#000" text-anchor="start" class="b">1</text><text x="829" y="331.82" fill="#000" text-anchor="start" class="b">2</text><text x="829" y="313.58" fill="#000" text-anchor="start" class="b">3</text><text x="829" y="295.34" fill="#000" text-anchor="start" class="b">4</text><text x="829" y="277.1" fill="#000" text-anchor="start" class="b">5</text><text x="829" y="258.86" fill="#000" text-anchor="start" class="b">6</text><text x="829" y="240.62" fill="#000" text-anchor="start" class="b">7</text><text x="829" y="222.38" fill="#000" text-anchor="start" class="b">8</text><text x="829" y="204.14" fill="#000" text-anchor="start" class="b">9</text><text x="829" y="185.9" fill="#000" text-anchor="start" class="b">10</text><text x="829" y="167.66" fill="#000" text-anchor="start" class="b">11</text><text x="829" y="149.42" fill="#000" text-anchor="start" class="b">12</text><text x="829" y="131.18" fill="#000" text-anchor="start" class="b">13</text><text x="829" y="112.94" fill="#000" text-anchor="start" class="b">14</text><text x="829" y="94.7" fill="#000" text-anchor="start" class="b">15</text><text x="829" y="76.46" fill="#000" text-anchor="start" class="b">16</text><text x="829" y="58.22" fill="#000" text-anchor="start" class="b">17</text><text x="849" y="368.3" fill="#00bfff" stroke="#00bfff" text-anchor="start" class="">0</text><text x="849" y="58.3" fill="#00bfff" stroke="#00bfff" text-anchor="start" class="">1</text><text x="863.5" y="368.3" fill="#ffff00" stroke="#ffff00" text-anchor="start" class="">0</text><text x="863.5" y="306.3" fill="#ffff00" stroke="#ffff00" text-anchor="start" class="">1</text><text x="863.5" y="244.3" fill="#ffff00" stroke="#ffff00" text-anchor="start" class="">2</text><text x="863.5" y="182.3" fill="#ffff00" stroke="#ffff00" text-anchor="start" class="">3</text><text x="863.5" y="120.3" fill="#ffff00" stroke="#ffff00" text-anchor="start" class="">4</text><text x="863.5" y="58.3" fill="#ffff00" stroke="#ffff00" text-anchor="start" class="">5</text><text x="878.5" y="368.3" fill="#ff8000" text-anchor="start" class="b">0</text><text x="878.5" y="352.8" fill="#ff8000" text-anchor="start" class="b">150</text><text x="878.5" y="337.3" fill="#ff8000" text-anchor="start" class="b">300</text><text x="878.5" y="321.8" fill="#ff8000" text-anchor="start" class="b">450</text><text x="878.5" y="306.3" fill="#ff8000" text-anchor="start" class="b">600</text><text x="878.5" y="290.8" fill="#ff8000" text-anchor="start" class="b">750</text><text x="878.5" y="275.3" fill="#ff8000" text-anchor="start" class="b">900</text><text x="878.5" y="259.8" fill="#ff8000" text-anchor="start" class="b">1050</text><text x="878.5" y="244.3" fill="#ff8000" text-anchor="start" class="b">1200</text><text x="878.5" y="228.8" fill="#ff8000" text-anchor="start" class="b">1350</text><text x="878.5" y="213.3" fill="#ff8000" text-anchor="start" class="b">1500</text><text transform="translate(73.4,396.4) rotate(-90)" class="b" style="letter-spacing:-0.2px" fill="#000">00:00</text><text transform="translate(88.4,396.4) rotate(-90)" class="b" style="letter-spacing:-0.2px" fill="#000">00:30</text><text transform="translate(103.4,396.4) rotate(-90)" class="b" style="letter-spacing:-0.2px" fill="#000">01:00</text><text transform="translate(119.4,396.4) rotate(-90)" class="b" style="letter-spacing:-0.2px" fill="#000">01:30</text><text transform="translate(134.4,396.4) rotate(-90)" class="b" style="letter-spacing:-0.2px" fill="#000">02:00</text><text transform="translate(149.4,396.4) rotate(-90)" class="b" style="letter-spacing:-0.2px" fill="#000">02:30</text><text transform="translate(165.4,396.4) rotate(-90)" class="b" style="letter-spacing:-0.2px" fill="#000">03:00</text><text transform="translate(180.4,396.4) rotate(-90)" class="b" style="letter-spacing:-0.2px" fill="#000">03:30</text><text transform="translate(195.4,396.4) rotate(-90)" class="b" style="letter-spacing:-0.2px" fill="#000">04:00</text><text transform="translate(211.4,396.4) rotate(-90)" class="b" style="letter-spacing:-0.2px" fill="#000">04:30</text><text transform="translate(226.4,396.4) rotate(-90)" class="b" style="letter-spacing:-0.2px" fill="#000">05:00</text><text transform="translate(242.4,396.4) rotate(-90)" class="b" style="letter-spacing:-0.2px" fill="#000">05:30</text><text transform="translate(257.4,396.4) rotate(-90)" class="b" style="letter-spacing:-0.2px" fill="#000">06:00</text><text transform="translate(272.4,396.4) rotate(-90)" class="b" style="letter-spacing:-0.2px" fill="#000">06:30</text><text transform="translate(288.4,396.4) rotate(-90)" class="b" style="letter-spacing:-0.2px" fill="#000">07:00</text><text transform="translate(303.4,396.4) rotate(-90)" class="b" style="letter-spacing:-0.2px" fill="#000">07:30</text><text transform="translate(318.4,396.4) rotate(-90)" class="b" style="letter-spacing:-0.2px" fill="#000">08:00</text><text transform="translate(334.4,396.4) rotate(-90)" class="b" style="letter-spacing:-0.2px" fill="#000">08:30</text><text transform="translate(349.4,396.4) rotate(-90)" class="b" style="letter-spacing:-0.2px" fill="#000">09:00</text><text transform="translate(364.4,396.4) rotate(-90)" class="b" style="letter-spacing:-0.2px" fill="#000">09:30</text><text transform="translate(380.4,396.4) rotate(-90)" class="b" style="letter-spacing:-0.2px" fill="#000">10:00</text><text transform="translate(395.4,396.4) rotate(-90)" class="b" style="letter-spacing:-0.2px" fill="#000">10:30</text><text transform="translate(411.4,396.4) rotate(-90)" class="b" style="letter-spacing:-0.2px" fill="#000">11:00</text><text transform="translate(426.4,396.4) rotate(-90)" class="b" style="letter-spacing:-0.2px" fill="#000">11:30</text><text transform="translate(441.4,396.4) rotate(-90)" class="b" style="letter-spacing:-0.2px" fill="#000">12:00</text><text transform="translate(457.4,396.4) rotate(-90)" class="b" style="letter-spacing:-0.2px" fill="#000">12:30</text><text transform="translate(472.4,396.4) rotate(-90)" class="b" style="letter-spacing:-0.2px" fill="#000">13:00</text><text transform="translate(487.4,396.4) rotate(-90)" class="b" style="letter-spacing:-0.2px" fill="#000">13:30</text><text transform="translate(503.4,396.4) rotate(-90)" class="b" style="letter-spacing:-0.2px" fill="#000">14:00</text><text transform="translate(518.4,396.4) rotate(-90)" class="b" style="letter-spacing:-0.2px" fill="#000">14:30</text><text transform="translate(533.4,396.4) rotate(-90)" class="b" style="letter-spacing:-0.2px" fill="#000">15:00</text><text transform="translate(549.4,396.4) rotate(-90)" class="b" style="letter-spacing:-0.2px" fill="#000">15:30</text><text transform="translate(564.4,396.4) rotate(-90)" class="b" style="letter-spacing:-0.2px" fill="#000">16:00</text><text transform="translate(580.4,396.4) rotate(-90)" class="b" style="letter-spacing:-0.2px" fill="#000">16:30</text><text transform="translate(595.4,396.4) rotate(-90)" class="b" style="letter-spacing:-0.2px" fill="#000">17:00</text><text transform="translate(610.4,396.4) rotate(-90)" class="b" style="letter-spacing:-0.2px" fill="#000">17:30</text><text transform="translate(626.4,396.4) rotate(-90)" class="b" style="letter-spacing:-0.2px" fill="#000">18:00</text><text transform="translate(641.4,396.4) rotate(-90)" class="b" style="letter-spacing:-0.2px" fill="#000">18:30</text><text transform="translate(656.4,396.4) rotate(-90)" class="b" style="letter-spacing:-0.2px" fill="#000">19:00</text><text transform="translate(672.4,396.4) rotate(-90)" class="b" style="letter-spacing:-0.2px" fill="#000">19:30</text><text transform="translate(687.4,396.4) rotate(-90)" class="b" style="letter-spacing:-0.2px" fill="#000">20:00</text><text transform="translate(703.4,396.4) rotate(-90)" class="b" style="letter-spacing:-0.2px" fill="#000">20:30</text><text transform="translate(718.4,396.4) rotate(-90)" class="b" style="letter-spacing:-0.2px" fill="#000">21:00</text><text transform="translate(733.4,396.4) rotate(-90)" class="b" style="letter-spacing:-0.2px" fill="#000">21:30</text><text transform="translate(749.4,396.4) rotate(-90)" class="b" style="letter-spacing:-0.2px" fill="#000">22:00</text><text transform="translate(764.4,396.4) rotate(-90)" class="b" style="letter-spacing:-0.2px" fill="#000">22:30</text><text transform="translate(779.4,396.4) rotate(-90)" class="b" style="letter-spacing:-0.2px" fill="#000">23:00</text><text transform="translate(795.4,396.4) rotate(-90)" class="b" style="letter-spacing:-0.2px" fill="#000">23:30</text><text x="6" y="47" fill="#228b22" text-anchor="start" class="b">hPa</text><text x="40" y="47" fill="#9400d3" text-anchor="start" class="b">%</text><text x="57" y="47" fill="#ff0000" text-anchor="start" class="b">°C</text><text x="809" y="47" fill="#6e6e6e" stroke="#6e6e6e" text-anchor="start" class="">°</text><text x="828" y="47.5" fill="#000" text-anchor="start" class="b i">m/s</text><text x="848" y="47.5" fill="#00bfff" stroke="#00bfff" text-anchor="start" class="">mm</text><text x="878" y="47" fill="#ff8000" text-anchor="start" class="b">W</text><text x="815" y="377" fill="#000" stroke="#000" text-anchor="start" class="i">čas</text><text x="25" y="12" fill="#000" stroke="#000" text-anchor="start" class="">Teplota</text><text x="85" y="12" fill="#000" stroke="#000" text-anchor="start" class="">Přízemní teplota</text><text x="190" y="12" fill="#000" stroke="#000" text-anchor="start" class="">Vlhkost</text><text x="250" y="12" fill="#000" stroke="#000" text-anchor="start" class="">Tlak</text><text x="295" y="12" fill="#000" stroke="#000" text-anchor="start" class="">Srážky</text><text x="350" y="12" fill="#000" stroke="#000" text-anchor="start" class="">Rychlost větru</text><text x="445" y="12" fill="#000" stroke="#000" text-anchor="start" class="">Náraz větru</text><text x="525" y="12" fill="#000" stroke="#000" text-anchor="start" class="">Směr větru</text><text x="600" y="12" fill="#ffff00" stroke="#ffff00" text-anchor="start" class="">UV index</text><text x="665" y="12" fill="#ff8000" stroke="#ff8000" text-anchor="start" class="">Solar</text><text x="80" y="27.2" fill="#000" stroke="#000" text-anchor="start" class="">max</text><text x="100" y="27.2" fill="#ff0000" stroke="#ff0000" text-anchor="start" class="">10.0°C  98%  1003.4hPa</text><text x="225" y="27.2" fill="#00bfff" stroke="#00bfff" text-anchor="start" class="">0.0mm</text><text x="80" y="37" fill="#000" stroke="#000" text-anchor="start" class="">min</text><text x="105" y="37" fill="#0000cd" text-anchor="start" class="b">0.1°C  62%  996.8hPa</text><text x="80" y="47" fill="#000" stroke="#000" text-anchor="start" class="">avg</text><text x="105" y="47" fill="#000" stroke="#000" text-anchor="start" class="">5.4°C</text><text x="499.3" y="27.2" fill="#000" stroke="#000" text-anchor="start" class="">WS:4.5m/s</text><text x="569.3" y="27.2" fill="#000" stroke="#000" text-anchor="start" class="">WG:7.6m/s</text><text x="499.3" y="37" fill="#000" stroke="#000" text-anchor="start" class="">Východ:06:15</text><text x="569.3" y="37" fill="#000" stroke="#000" text-anchor="start" class="">Západ:17:53</text><text x="414.6" y="51.3" class="b" fill="#000" stroke="#000" style="font-size:13.6px;letter-spacing:-1.16px;stroke-width:.35px">11.03.2013</text>
<path d="M0.5 0.5H899.5V399.5H0.5Z" fill="none" stroke="#000" stroke-width="1" shape-rendering="crispEdges"/>
</svg></body></html>
